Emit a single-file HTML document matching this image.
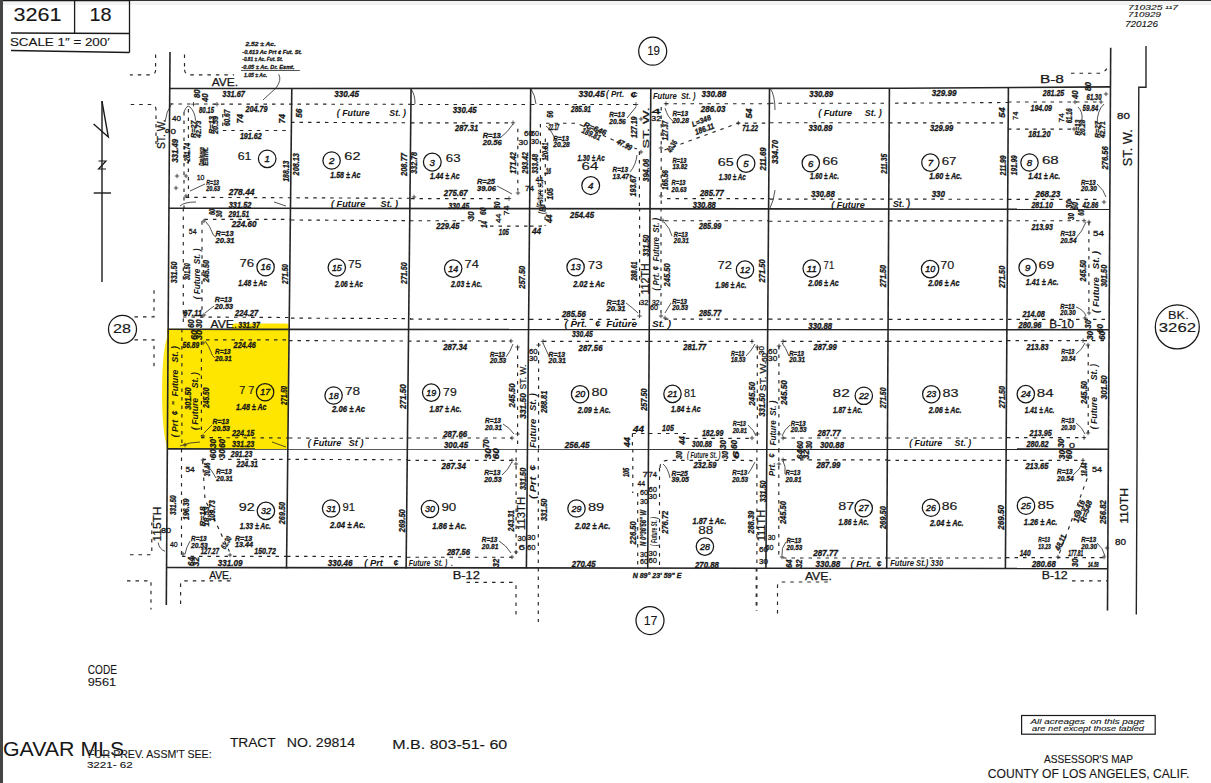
<!DOCTYPE html>
<html><head><meta charset="utf-8">
<style>
html,body{margin:0;padding:0;background:#fff;width:1211px;height:783px;overflow:hidden}
svg{position:absolute;left:0;top:0;display:block}
text{font-family:"Liberation Sans",sans-serif;fill:#161616;white-space:pre}
.d{font-weight:bold;font-style:italic;stroke:#161616;stroke-width:0.3px}
.f{font-weight:bold;font-style:italic}
.cn{font-style:italic;stroke:#161616;stroke-width:0.4px}
.n{stroke:#161616;stroke-width:0.15px}
.st{stroke:#161616;stroke-width:0.25px}
.rg{stroke:#161616;stroke-width:0.3px}
.bt{stroke:#161616;stroke-width:0.12px}
.ln{stroke:#252525;stroke-width:1.6;fill:none}
.th{stroke:#1a1a1a;stroke-width:1;fill:none}
.ds line,.ds path{stroke:#262626;stroke-width:1.15;fill:none;stroke-dasharray:3.5 5}
.ci circle{stroke:#161616;stroke-width:1.25;fill:none}
.tn path,.tn line{stroke:#262626;stroke-width:0.8;fill:none}
</style></head><body>
<svg width="1211" height="783" viewBox="0 0 1211 783">
<rect x="0" y="0" width="1211" height="1" fill="#333"/>
<rect x="0" y="1" width="1211" height="4" fill="#f3f3f3"/>
<rect x="0" y="0" width="3" height="783" fill="#444"/>
<ellipse cx="168.5" cy="392" rx="6.5" ry="55" fill="#ffe600" opacity="0.9"/>
<polygon points="167,328.8 289,329.2 288,449 166.5,449" fill="#ffe600"/>
<rect x="232" y="323.6" width="57" height="6" rx="3" fill="#ffe600"/>
<g class="th" style="stroke-width:1.3">
<line x1="3" y1="0.5" x2="129.5" y2="0.5"/>
<line x1="129.5" y1="0" x2="129.5" y2="52.5"/>
<line x1="74.6" y1="0" x2="74.6" y2="33"/>
<line x1="11" y1="33" x2="129.5" y2="33.5"/>
<line x1="11" y1="50.5" x2="129.5" y2="52.5"/>
</g>
<g class="ln">
<line x1="170" y1="52" x2="166.3" y2="605"/>
<line x1="291.8" y1="88.5" x2="286.5" y2="568.5"/>
<line x1="411.1" y1="88.5" x2="406.1" y2="568.5"/>
<line x1="530.7" y1="88.5" x2="526.4" y2="568.5"/>
<line x1="650.8" y1="88.5" x2="647.7" y2="568.5"/>
<line x1="769.5" y1="88.5" x2="765.9" y2="568.5"/>
<line x1="889.4" y1="88" x2="886.7" y2="568.5"/>
<line x1="1008.4" y1="87.5" x2="1005.4" y2="568.5"/>
<line x1="1110.7" y1="47.7" x2="1107.5" y2="610.5"/>
<polyline points="170,88.5 900,88.3 1110.5,86.9"/>
<line x1="169" y1="208.2" x2="1110" y2="209.3"/>
<line x1="168" y1="329.3" x2="1109" y2="329.7"/>
<line x1="167" y1="448.9" x2="1108.3" y2="449.2"/>
<line x1="166.3" y1="567.5" x2="1108" y2="568.6"/>
</g>
<polyline class="ln" points="1146,46 1146,87.2 1138.8,87.2 1136.3,614.5" style="stroke-width:1.4"/>
<g class="ci">
<circle cx="652.7" cy="51.2" r="14"/>
<circle cx="122.5" cy="329.3" r="14"/>
<circle cx="650" cy="620.5" r="14"/>
<circle cx="1177.3" cy="326.9" r="22"/>
</g>
<g class="th" style="stroke-width:1.4">
<line x1="102" y1="101" x2="102" y2="282"/>
<polyline points="102,101.4 108.3,137 93.6,124"/>
<line x1="93.7" y1="193" x2="111" y2="193"/>
<polyline points="98.5,161 106,161 98.5,169 106,169" style="stroke-width:1.2"/>
</g>
<rect x="1021.6" y="715.5" width="133.6" height="18.7" class="th" style="stroke-width:1.2"/>
<g class="ds">
<line x1="170" y1="104" x2="411" y2="104.3"/>
<line x1="222.8" y1="130.5" x2="291" y2="130.5"/>
<line x1="222.8" y1="114" x2="222.8" y2="130.5"/>
<line x1="185.8" y1="197.3" x2="411" y2="198.3"/>
<line x1="184" y1="112" x2="184" y2="208"/>
<line x1="188.4" y1="109" x2="188.4" y2="200"/>
<line x1="291" y1="122.3" x2="411" y2="122.8"/>
<line x1="411" y1="104.5" x2="531" y2="104.5"/>
<line x1="411" y1="122.8" x2="513" y2="122.8"/>
<line x1="517.8" y1="128.8" x2="517.8" y2="190.5"/>
<line x1="411" y1="198.6" x2="509" y2="198.6"/>
<line x1="531" y1="104.5" x2="636" y2="104.5"/>
<line x1="639.4" y1="151.6" x2="639.4" y2="208"/>
<path d="M546 123.2 L577 123.2 L612 139.5 L637 149"/>
<line x1="540.4" y1="124" x2="540.4" y2="208"/>
<line x1="545.3" y1="138.6" x2="545.3" y2="208"/>
<line x1="665" y1="103.7" x2="770" y2="103.7"/>
<line x1="661.2" y1="107" x2="661.2" y2="208"/>
<path d="M664.5 150 L738.3 123.1 L770 123.1"/>
<line x1="667" y1="198.6" x2="770" y2="198.6"/>
<line x1="770" y1="103.2" x2="889" y2="103.2"/>
<line x1="770" y1="122.7" x2="889" y2="122.7"/>
<line x1="770" y1="199.1" x2="889" y2="199.1"/>
<line x1="895" y1="103.2" x2="1008" y2="102.5"/>
<line x1="889" y1="122.8" x2="1008" y2="122.8"/>
<line x1="889" y1="199.1" x2="1008" y2="199.3"/>
<line x1="1008" y1="102" x2="1100" y2="102"/>
<line x1="1008" y1="129.1" x2="1076" y2="129.1"/>
<line x1="1008" y1="199.3" x2="1100" y2="199.3"/>
<line x1="183.3" y1="208" x2="183.3" y2="322"/>
<line x1="202" y1="221.2" x2="202" y2="317"/>
<line x1="204.4" y1="219.3" x2="290" y2="219.3"/>
<line x1="183" y1="317" x2="290" y2="317.5"/>
<line x1="291" y1="220" x2="411" y2="220.7"/>
<line x1="291" y1="318.1" x2="411" y2="318.6"/>
<line x1="410" y1="220.7" x2="485.2" y2="220.7"/>
<line x1="490" y1="226.1" x2="530" y2="226.1"/>
<line x1="410" y1="319.1" x2="530" y2="319.4"/>
<line x1="545.1" y1="208" x2="545.1" y2="226.1"/>
<line x1="530" y1="226.1" x2="545.1" y2="226.1"/>
<line x1="639.6" y1="208" x2="639.6" y2="315.4"/>
<line x1="530" y1="319.4" x2="640" y2="319.4"/>
<line x1="661" y1="208" x2="661" y2="317"/>
<line x1="665" y1="220.7" x2="769" y2="220.7"/>
<line x1="665" y1="319.1" x2="769" y2="319.1"/>
<line x1="769" y1="221.2" x2="889" y2="221.2"/>
<line x1="769" y1="319.1" x2="889" y2="319.1"/>
<line x1="889" y1="220.9" x2="1008" y2="220.9"/>
<line x1="889" y1="319.4" x2="1008" y2="319.4"/>
<line x1="1008" y1="220.7" x2="1084.3" y2="220.7"/>
<line x1="1088.9" y1="222" x2="1088.9" y2="313.6"/>
<line x1="1008" y1="319.3" x2="1110" y2="319.3"/>
<line x1="181.9" y1="329" x2="181.9" y2="449"/>
<line x1="201.4" y1="341.4" x2="201.4" y2="436.3"/>
<line x1="206" y1="339.8" x2="289" y2="339.8"/>
<line x1="201" y1="437.6" x2="289" y2="438"/>
<line x1="289" y1="340.6" x2="408" y2="341"/>
<line x1="289" y1="438" x2="408" y2="438.3"/>
<line x1="408" y1="341.1" x2="510.8" y2="341.1"/>
<line x1="517.6" y1="347" x2="517.6" y2="449"/>
<line x1="408" y1="438" x2="512" y2="438"/>
<line x1="543" y1="341.4" x2="649" y2="341.4"/>
<line x1="538.6" y1="343" x2="538.6" y2="449"/>
<line x1="632.4" y1="433.5" x2="649" y2="433.5"/>
<line x1="632.4" y1="433.5" x2="632.4" y2="449"/>
<line x1="649" y1="341.4" x2="752.4" y2="341.4"/>
<line x1="757.3" y1="347" x2="757.3" y2="449"/>
<line x1="649" y1="433.5" x2="685.8" y2="433.5"/>
<line x1="685.8" y1="438.3" x2="752" y2="438.3"/>
<line x1="783" y1="341.4" x2="888" y2="341.4"/>
<line x1="778.9" y1="346" x2="778.9" y2="449"/>
<line x1="783" y1="438" x2="888" y2="438"/>
<line x1="888" y1="341.4" x2="1007" y2="341.4"/>
<line x1="888" y1="438" x2="1007" y2="438"/>
<line x1="1007" y1="340.6" x2="1109" y2="340.6"/>
<line x1="1088.2" y1="345" x2="1088.2" y2="433"/>
<line x1="1007" y1="437.6" x2="1085" y2="437.6"/>
<line x1="181.5" y1="449" x2="181.5" y2="556.3"/>
<line x1="202.6" y1="459.3" x2="287" y2="459.3"/>
<path d="M202.6 460.6 L205 499.5 L229.4 551.5"/>
<line x1="182" y1="556.3" x2="287" y2="556.3"/>
<line x1="287" y1="459.3" x2="407" y2="459.8"/>
<line x1="287" y1="556.4" x2="407" y2="556.6"/>
<line x1="407" y1="460.3" x2="512" y2="460.3"/>
<line x1="516.1" y1="449" x2="516.1" y2="554"/>
<line x1="407" y1="557.2" x2="512" y2="557.2"/>
<line x1="538.3" y1="449" x2="538.3" y2="622"/>
<line x1="632.8" y1="449" x2="632.8" y2="493"/>
<line x1="637.7" y1="493" x2="637.7" y2="568"/>
<path d="M660 468 Q660 460.3 668 460.3 L748 460.3 Q757 460.3 757 466"/>
<line x1="659.5" y1="468" x2="659.5" y2="568"/>
<line x1="756.9" y1="449" x2="756.9" y2="611"/>
<line x1="778.8" y1="449" x2="778.8" y2="558"/>
<line x1="783" y1="459.8" x2="887" y2="459.8"/>
<line x1="783" y1="558" x2="887" y2="558"/>
<line x1="887" y1="460.3" x2="1006" y2="460.3"/>
<line x1="887" y1="558" x2="1006" y2="558"/>
<line x1="1006" y1="460.3" x2="1083.1" y2="460.3"/>
<path d="M1087.2 478.4 L1058 557.1"/>
<line x1="1006" y1="557.6" x2="1108" y2="557.6"/>
<line x1="155.6" y1="54.4" x2="155.6" y2="70"/>
<path d="M155.6 70 Q155.6 74.9 150 74.9 L130 74.9"/>
<line x1="184.5" y1="54.4" x2="184.5" y2="69.7"/>
<path d="M184.5 69.7 Q185 74.9 191 74.9 L234 74.9"/>
<path d="M130.7 104.5 L151 104.5 Q156 104.5 156 110 L156 144"/>
<path d="M1071 73.2 L1100 73.2 Q1106 72 1108 66"/>
<path d="M134.5 316.8 L154 316.8 L154 289.2"/>
<path d="M134.5 339.8 L154 339.8 L154 368.5"/>
<path d="M127 580.8 L151 580.8 L151 609.5"/>
<path d="M180.6 604 L180.6 584 Q180.6 580.8 184 580.8 L233.6 580.8"/>
<path d="M466.5 582.3 L512 582.3 Q516 582.3 516 586 L516 618.5"/>
<line x1="756.2" y1="568" x2="756.2" y2="611"/>
<path d="M777.5 613.5 L777.5 586 Q777.5 582 782 582 L829 582"/>
<line x1="1072" y1="580.8" x2="1107" y2="580.8"/>
<path d="M130 554.7 L151.8 554.7 L151.8 522.5"/>
</g>
<g class="tn">
<path d="M184 112 Q187 104 190 107 Q195 112 195.6 120.6"/>
<path d="M191.3 104.2H195.7M193.5 102.0V106.4"/>
<path d="M214.8 104.2H219.2M217 102.0V106.4"/>
<path d="M174.8 176H179.2M177 173.8V178.2"/>
<path d="M183.8 176H188.2M186 173.8V178.2"/>
<path d="M173.8 188H178.2M176 185.8V190.2"/>
<path d="M183.8 196H188.2M186 193.8V198.2"/>
<path d="M180 206 Q184 202 196 202"/>
<path d="M274 202 L286 206"/>
<path d="M190 191 L205 184"/>
<path d="M500 138 Q508 132 513 124"/>
<path d="M497 186 Q505 190 512 194"/>
<path d="M510.8 122.8H515.2M513 120.6V125.0"/>
<path d="M506.8 198.6H511.2M509 196.4V200.79999999999998"/>
<path d="M515.8 193H520.2M518 190.8V195.2"/>
<path d="M411.8 197H416.2M414 194.8V199.2"/>
<path d="M411 89 Q415 94 415 104"/>
<path d="M627 118 L636 107"/>
<path d="M630 172 Q636 165 637 155"/>
<path d="M546 126 Q552 130 556 142"/>
<path d="M531 89 Q535 95 536 104"/>
<path d="M633.8 104.5H638.2M636 102.3V106.7"/>
<path d="M638.8 119H643.2M641 116.8V121.2"/>
<path d="M638.8 152H643.2M641 149.8V154.2"/>
<path d="M665 108 Q668 118 673 121"/>
<path d="M663.8 103.7H668.2M666 101.5V105.9"/>
<path d="M736.0999999999999 123.1H740.5M738.3 120.89999999999999V125.3"/>
<path d="M658.8 148H663.2M661 145.8V150.2"/>
<path d="M658.8 196H663.2M661 193.8V198.2"/>
<path d="M770 88 Q775 95 775 110"/>
<path d="M775 190 Q774 200 770 208"/>
<path d="M1104 104 Q1097 110 1097 125"/>
<path d="M1097 184 Q1104 190 1106 197"/>
<path d="M1098.8 102H1103.2M1101 99.8V104.2"/>
<path d="M1072.8 102H1077.2M1075 99.8V104.2"/>
<path d="M1103.8 94H1108.2M1106 91.8V96.2"/>
<path d="M1101.8 202H1106.2M1104 199.8V204.2"/>
<path d="M1071.8 129H1076.2M1074 126.8V131.2"/>
<path d="M1078 107 Q1083 112 1082 120"/>
<path d="M206 222 Q210 226 212 232 Q213 236 216 237"/>
<path d="M214 306 L205 313"/>
<path d="M201.8 221H206.2M204 218.8V223.2"/>
<path d="M201.8 315H206.2M204 312.8V317.2"/>
<path d="M183.8 313H188.2M186 310.8V315.2"/>
<path d="M626 303 Q633 308 638 313"/>
<path d="M637.4 316H641.8000000000001M639.6 313.8V318.2"/>
<path d="M664 222 Q670 228 672 236"/>
<path d="M671 303 L665 313"/>
<path d="M660.8 220.7H665.2M663 218.5V222.89999999999998"/>
<path d="M658.8 316H663.2M661 313.8V318.2"/>
<path d="M662.8 318H667.2M665 315.8V320.2"/>
<path d="M1076 238 Q1082 232 1086 222"/>
<path d="M1076 307 Q1084 310 1086 316"/>
<path d="M1081.8 220.7H1086.2M1084 218.5V222.89999999999998"/>
<path d="M1086.8 222H1091.2M1089 219.8V224.2"/>
<path d="M1086.8 313H1091.2M1089 310.8V315.2"/>
<path d="M1082.8 318H1087.2M1085 315.8V320.2"/>
<path d="M205 341 Q209 346 211 352 Q212 356 215 358"/>
<path d="M212 425 L204 433"/>
<path d="M200.8 343H205.2M203 340.8V345.2"/>
<path d="M200.8 436H205.2M203 433.8V438.2"/>
<path d="M182.8 445H187.2M185 442.8V447.2"/>
<path d="M180 446 Q190 442 200 442"/>
<path d="M272 442 L286 447"/>
<path d="M506 357 Q510 352 513 344"/>
<path d="M503 424 Q510 428 514 434"/>
<path d="M508.8 341H513.2M511 338.8V343.2"/>
<path d="M515.4 347H519.8000000000001M517.6 344.8V349.2"/>
<path d="M515.4 434H519.8000000000001M517.6 431.8V436.2"/>
<path d="M509.8 438H514.2M512 435.8V440.2"/>
<path d="M543 343 Q546 350 549 356"/>
<path d="M540.8 341.4H545.2M543 339.2V343.59999999999997"/>
<path d="M536.4 345H540.8000000000001M538.6 342.8V347.2"/>
<path d="M746 356 Q752 350 755 344"/>
<path d="M748 425 Q754 430 756 436"/>
<path d="M749.8 341.4H754.2M752 339.2V343.59999999999997"/>
<path d="M755.0999999999999 347H759.5M757.3 344.8V349.2"/>
<path d="M755.0999999999999 434H759.5M757.3 431.8V436.2"/>
<path d="M749.8 438H754.2M752 435.8V440.2"/>
<path d="M782 343 Q786 348 789 356"/>
<path d="M790 425 Q784 430 782 436"/>
<path d="M780.8 341.4H785.2M783 339.2V343.59999999999997"/>
<path d="M776.8 346H781.2M779 343.8V348.2"/>
<path d="M776.8 434H781.2M779 431.8V436.2"/>
<path d="M780.8 438H785.2M783 435.8V440.2"/>
<path d="M1076 354 Q1082 350 1085 343"/>
<path d="M1076 423 Q1082 427 1085 434"/>
<path d="M1080.8 340.6H1085.2M1083 338.40000000000003V342.8"/>
<path d="M1085.8 345H1090.2M1088 342.8V347.2"/>
<path d="M1085.8 433H1090.2M1088 430.8V435.2"/>
<path d="M1081.8 437.6H1086.2M1084 435.40000000000003V439.8"/>
<path d="M206 464 Q212 470 216 478"/>
<path d="M190 541 Q186 548 185 554"/>
<path d="M200.8 460H205.2M203 457.8V462.2"/>
<path d="M180.8 554H185.2M183 551.8V556.2"/>
<path d="M227.8 555H232.2M230 552.8V557.2"/>
<path d="M502 475 Q508 470 512 462"/>
<path d="M499 541 Q506 545 511 553"/>
<path d="M509.8 460.3H514.2M512 458.1V462.5"/>
<path d="M513.8 464H518.2M516 461.8V466.2"/>
<path d="M513.8 552H518.2M516 549.8V554.2"/>
<path d="M509.8 557H514.2M512 554.8V559.2"/>
<path d="M663 464 Q668 468 670 478"/>
<path d="M748 474 Q752 468 755 462"/>
<path d="M783 461 Q786 466 785 474"/>
<path d="M786 542 Q781 548 782 555"/>
<path d="M780.8 459.8H785.2M783 457.6V462.0"/>
<path d="M776.8 464H781.2M779 461.8V466.2"/>
<path d="M779.8 557H784.2M782 554.8V559.2"/>
<path d="M1073 475 Q1080 470 1083 462"/>
<path d="M1097 543 Q1103 548 1105 556"/>
<path d="M1080.8 460.3H1085.2M1083 458.1V462.5"/>
<path d="M1055.8 557H1060.2M1058 554.8V559.2"/>
<path d="M1101.8 557H1106.2M1104 554.8V559.2"/>
<path d="M1104.8 548H1109.2M1107 545.8V550.2"/>
<path d="M165 122 Q166 112 172 103"/>
<line x1="241.1" y1="70.5" x2="299.8" y2="70.5"/>
<path d="M278.7 74.2 Q282 80 276 88 L263 100"/>
<path d="M158.2 542.6 Q159 549 165 551.3"/>
</g>
<g class="ci">
<circle cx="267.2" cy="158.8" r="8.8"/>
<circle cx="331.6" cy="160.5" r="8.7"/>
<circle cx="432.3" cy="162.1" r="8.9"/>
<circle cx="590.7" cy="185.6" r="8.9"/>
<circle cx="746" cy="163.4" r="8.9"/>
<circle cx="810.8" cy="163.2" r="8.7"/>
<circle cx="930.4" cy="162.6" r="8.7"/>
<circle cx="1029.5" cy="162.5" r="8.7"/>
<circle cx="265.6" cy="267.2" r="8.7"/>
<circle cx="336.8" cy="267.5" r="8.7"/>
<circle cx="453.2" cy="268.6" r="8.7"/>
<circle cx="575.6" cy="267.2" r="8.7"/>
<circle cx="745" cy="269.6" r="8.7"/>
<circle cx="811.7" cy="268.6" r="8.7"/>
<circle cx="930.1" cy="269.1" r="8.7"/>
<circle cx="1027.6" cy="267.4" r="8.7"/>
<circle cx="265.1" cy="392.2" r="8.7"/>
<circle cx="333.6" cy="395.5" r="8.7"/>
<circle cx="431.2" cy="392.6" r="8.7"/>
<circle cx="580.1" cy="394.2" r="8.7"/>
<circle cx="672.5" cy="393.9" r="8.7"/>
<circle cx="863.8" cy="395.8" r="8.7"/>
<circle cx="931.3" cy="394.2" r="8.7"/>
<circle cx="1025.8" cy="394.1" r="8.7"/>
<circle cx="265.9" cy="510.9" r="8.7"/>
<circle cx="331.1" cy="508.5" r="8.7"/>
<circle cx="430" cy="509" r="8.7"/>
<circle cx="576.5" cy="508.5" r="8.7"/>
<circle cx="704.9" cy="546.6" r="8.7"/>
<circle cx="863.7" cy="508.2" r="8.7"/>
<circle cx="931" cy="507.7" r="8.7"/>
<circle cx="1026" cy="505.7" r="8.7"/>
</g>
<text class="d" x="222.3" y="97.4" style="font-size:8.3px" textLength="22.7" lengthAdjust="spacingAndGlyphs">331.67</text>
<text class="d" x="245.4" y="111.9" style="font-size:8.3px" textLength="22.0" lengthAdjust="spacingAndGlyphs">204.79</text>
<text class="d" x="199.0" y="112.5" style="font-size:8.3px" textLength="15.0" lengthAdjust="spacingAndGlyphs">80.15</text>
<text class="d" x="239.9" y="138.7" style="font-size:8.3px" textLength="21.9" lengthAdjust="spacingAndGlyphs">191.62</text>
<text class="d" x="228.7" y="195.3" style="font-size:8.3px" textLength="25.9" lengthAdjust="spacingAndGlyphs">278.44</text>
<text class="d" x="228.7" y="207.7" style="font-size:8.3px" textLength="22.7" lengthAdjust="spacingAndGlyphs">331.52</text>
<text class="d" transform="translate(240.0,118.8) rotate(-90)" x="-4.8" y="2.9" style="font-size:8.3px" textLength="9.5" lengthAdjust="spacingAndGlyphs">74</text>
<text class="d" transform="translate(282.4,118.8) rotate(-90)" x="-4.8" y="2.9" style="font-size:8.3px" textLength="9.5" lengthAdjust="spacingAndGlyphs">74</text>
<text class="d" transform="translate(285.6,171.2) rotate(-90)" x="-10.6" y="2.9" style="font-size:8.3px" textLength="21.2" lengthAdjust="spacingAndGlyphs">188.13</text>
<text class="d" transform="translate(174.6,150.8) rotate(-90)" x="-11.8" y="2.9" style="font-size:8.3px" textLength="23.6" lengthAdjust="spacingAndGlyphs">331.49</text>
<text class="rg" x="172.0" y="121.3" style="font-size:8.0px" textLength="9.0" lengthAdjust="spacingAndGlyphs">40</text>
<text class="rg" x="170.5" y="134.1" style="font-size:8.0px" textLength="5.5" lengthAdjust="spacingAndGlyphs">0</text>
<text class="d" transform="translate(197.2,93.8) rotate(-90)" x="-4.3" y="2.9" style="font-size:8.3px" textLength="8.5" lengthAdjust="spacingAndGlyphs">80</text>
<text class="d" transform="translate(205.0,97.8) rotate(-90)" x="-4.3" y="2.9" style="font-size:8.3px" textLength="8.5" lengthAdjust="spacingAndGlyphs">40</text>
<text class="d" transform="translate(211.3,125.0) rotate(-90)" x="-9.0" y="2.7" style="font-size:7.6px" textLength="18.0" lengthAdjust="spacingAndGlyphs">R=13</text>
<text class="d" transform="translate(215.5,125.0) rotate(-90)" x="-9.0" y="2.7" style="font-size:7.6px" textLength="18.0" lengthAdjust="spacingAndGlyphs">20.59</text>
<text class="d" transform="translate(227.0,117.8) rotate(-90)" x="-8.3" y="2.9" style="font-size:8.3px" textLength="16.5" lengthAdjust="spacingAndGlyphs">60.67</text>
<text class="d" transform="translate(193.5,129.3) rotate(-90)" x="-8.6" y="2.7" style="font-size:7.6px" textLength="17.3" lengthAdjust="spacingAndGlyphs">R=27</text>
<text class="d" transform="translate(197.8,129.3) rotate(-90)" x="-8.6" y="2.7" style="font-size:7.6px" textLength="17.3" lengthAdjust="spacingAndGlyphs">42.73</text>
<text class="d" transform="translate(187.4,153.2) rotate(-90)" x="-10.3" y="2.9" style="font-size:8.3px" textLength="20.5" lengthAdjust="spacingAndGlyphs">-281.74</text>
<text class="d" transform="translate(201.5,156.4) rotate(-90)" x="-9.4" y="2.7" style="font-size:7.6px" textLength="18.8" lengthAdjust="spacingAndGlyphs">Drainage</text>
<text class="d" transform="translate(205.5,156.4) rotate(-90)" x="-9.4" y="2.7" style="font-size:7.6px" textLength="18.8" lengthAdjust="spacingAndGlyphs">Esmt.</text>
<text class="rg" x="196.7" y="179.6" style="font-size:8.0px" textLength="7.8" lengthAdjust="spacingAndGlyphs">10</text>
<text class="d" x="206.3" y="184.6" style="font-size:7.6px" textLength="12.7" lengthAdjust="spacingAndGlyphs">R=13</text>
<text class="d" x="206.3" y="191.2" style="font-size:7.6px" textLength="13.7" lengthAdjust="spacingAndGlyphs">20.63</text>
<text class="n" x="237.7" y="160.1" style="font-size:10.3px" textLength="13.8" lengthAdjust="spacingAndGlyphs">61</text>
<text class="cn" x="264.5" y="162.2" style="font-size:9.8px" textLength="5.4" lengthAdjust="spacingAndGlyphs">1</text>
<text class="d" x="334.3" y="97.0" style="font-size:8.3px" textLength="24.7" lengthAdjust="spacingAndGlyphs">330.45</text>
<text class="f" x="336.8" y="116.4" style="font-size:8.3px" textLength="69.2" lengthAdjust="spacingAndGlyphs">( Future        St. )</text>
<text class="d" transform="translate(298.8,113.1) rotate(-90)" x="-4.7" y="2.9" style="font-size:8.3px" textLength="9.3" lengthAdjust="spacingAndGlyphs">56</text>
<text class="cn" x="328.9" y="163.9" style="font-size:9.8px" textLength="5.4" lengthAdjust="spacingAndGlyphs">2</text>
<text class="n" x="344.3" y="160.2" style="font-size:10.3px" textLength="16.2" lengthAdjust="spacingAndGlyphs">62</text>
<text class="d" x="330.3" y="178.0" style="font-size:8.3px" textLength="30.1" lengthAdjust="spacingAndGlyphs">1.58 ± Ac</text>
<text class="d" transform="translate(295.6,164.2) rotate(-90)" x="-11.2" y="2.9" style="font-size:8.3px" textLength="22.3" lengthAdjust="spacingAndGlyphs">208.13</text>
<text class="d" transform="translate(404.3,164.5) rotate(-90)" x="-11.5" y="2.9" style="font-size:8.3px" textLength="23.0" lengthAdjust="spacingAndGlyphs">208.77</text>
<text class="f" x="331.0" y="207.2" style="font-size:8.3px" textLength="67.0" lengthAdjust="spacingAndGlyphs">( Future      St. )</text>
<text class="d" x="452.7" y="113.1" style="font-size:8.3px" textLength="23.9" lengthAdjust="spacingAndGlyphs">330.45</text>
<text class="d" x="455.0" y="131.0" style="font-size:8.3px" textLength="23.2" lengthAdjust="spacingAndGlyphs">287.31</text>
<text class="d" x="482.7" y="137.6" style="font-size:7.6px" textLength="18.1" lengthAdjust="spacingAndGlyphs">R=13</text>
<text class="d" x="482.7" y="144.7" style="font-size:7.6px" textLength="19.1" lengthAdjust="spacingAndGlyphs">20.56</text>
<text class="d" transform="translate(513.4,162.8) rotate(-90)" x="-10.9" y="2.9" style="font-size:8.3px" textLength="21.7" lengthAdjust="spacingAndGlyphs">171.42</text>
<text class="d" transform="translate(525.0,162.8) rotate(-90)" x="-10.9" y="2.9" style="font-size:8.3px" textLength="21.7" lengthAdjust="spacingAndGlyphs">293.42</text>
<text class="rg" x="524.0" y="136.0" style="font-size:8.0px" textLength="9.0" lengthAdjust="spacingAndGlyphs">60</text>
<text class="rg" x="518.5" y="144.5" style="font-size:8.0px" textLength="9.5" lengthAdjust="spacingAndGlyphs">30</text>
<text class="rg" x="525.0" y="190.9" style="font-size:8.0px" textLength="9.0" lengthAdjust="spacingAndGlyphs">74</text>
<text class="d" transform="translate(414.0,162.8) rotate(-90)" x="-10.9" y="2.9" style="font-size:8.3px" textLength="21.7" lengthAdjust="spacingAndGlyphs">332.78</text>
<text class="cn" x="429.6" y="165.5" style="font-size:9.8px" textLength="5.4" lengthAdjust="spacingAndGlyphs">3</text>
<text class="n" x="445.8" y="162.0" style="font-size:10.3px" textLength="14.7" lengthAdjust="spacingAndGlyphs">63</text>
<text class="d" x="430.0" y="178.8" style="font-size:8.3px" textLength="29.6" lengthAdjust="spacingAndGlyphs">1.44 ± Ac</text>
<text class="d" x="477.0" y="183.9" style="font-size:7.6px" textLength="18.0" lengthAdjust="spacingAndGlyphs">R=25</text>
<text class="d" x="477.0" y="191.0" style="font-size:7.6px" textLength="19.0" lengthAdjust="spacingAndGlyphs">39.06</text>
<text class="d" x="443.8" y="195.9" style="font-size:8.3px" textLength="23.9" lengthAdjust="spacingAndGlyphs">275.67</text>
<text class="d" x="448.6" y="208.7" style="font-size:8.3px" textLength="20.7" lengthAdjust="spacingAndGlyphs">330.45</text>
<text class="d" transform="translate(497.5,205.3) rotate(-90)" x="-3.7" y="2.9" style="font-size:8.3px" textLength="7.3" lengthAdjust="spacingAndGlyphs">80</text>
<text class="d" x="578.4" y="97.0" style="font-size:8.3px" textLength="26.3" lengthAdjust="spacingAndGlyphs">330.45</text>
<text class="f" x="606.0" y="97.4" style="font-size:8.3px" textLength="18.2" lengthAdjust="spacingAndGlyphs">( Prt.</text>
<text class="f" x="630.3" y="97.7" style="font-size:8.3px" textLength="7.7" lengthAdjust="spacingAndGlyphs">¢</text>
<text class="d" x="571.0" y="112.3" style="font-size:8.3px" textLength="20.0" lengthAdjust="spacingAndGlyphs">285.91</text>
<text class="d" x="609.2" y="117.2" style="font-size:7.6px" textLength="15.6" lengthAdjust="spacingAndGlyphs">R=13</text>
<text class="d" x="609.2" y="123.9" style="font-size:7.6px" textLength="16.6" lengthAdjust="spacingAndGlyphs">20.56</text>
<text class="d" transform="translate(634.0,127.2) rotate(-90)" x="-10.8" y="2.9" style="font-size:8.3px" textLength="21.5" lengthAdjust="spacingAndGlyphs">127.19</text>
<text class="st" transform="translate(645.1,128.0) rotate(-90)" x="-20.6" y="3.4" style="font-size:9.8px" textLength="41.2" lengthAdjust="spacingAndGlyphs">ST. W.</text>
<text class="d" transform="translate(583.0,126.5) rotate(22)" x="0" y="0" style="font-size:7.6px" textLength="24.0" lengthAdjust="spacingAndGlyphs">R=646</text>
<text class="d" transform="translate(581.0,132.5) rotate(24)" x="0" y="0" style="font-size:8.3px" textLength="20.0" lengthAdjust="spacingAndGlyphs">189.81</text>
<text class="d" transform="translate(616.0,143.5) rotate(27)" x="0" y="0" style="font-size:8.3px" textLength="16.0" lengthAdjust="spacingAndGlyphs">47.99</text>
<text class="d" x="577.6" y="161.4" style="font-size:8.3px" textLength="27.1" lengthAdjust="spacingAndGlyphs">1.30 ± Ac</text>
<text class="n" x="581.6" y="170.4" style="font-size:11.5px" textLength="16.8" lengthAdjust="spacingAndGlyphs">64</text>
<text class="cn" x="588.0" y="189.0" style="font-size:9.8px" textLength="5.4" lengthAdjust="spacingAndGlyphs">4</text>
<text class="d" x="612.5" y="171.8" style="font-size:7.6px" textLength="15.5" lengthAdjust="spacingAndGlyphs">R=13</text>
<text class="d" x="612.5" y="178.9" style="font-size:7.6px" textLength="16.5" lengthAdjust="spacingAndGlyphs">13.47</text>
<text class="d" transform="translate(633.4,185.7) rotate(-90)" x="-10.7" y="2.9" style="font-size:8.3px" textLength="21.4" lengthAdjust="spacingAndGlyphs">193.67</text>
<text class="d" transform="translate(646.0,170.2) rotate(-90)" x="-11.6" y="2.9" style="font-size:8.3px" textLength="23.1" lengthAdjust="spacingAndGlyphs">394.06</text>
<text class="d" transform="translate(550.2,114.2) rotate(-90)" x="-3.5" y="2.9" style="font-size:8.3px" textLength="6.9" lengthAdjust="spacingAndGlyphs">56</text>
<text class="d" x="548.4" y="129.7" style="font-size:8.3px" textLength="10.9" lengthAdjust="spacingAndGlyphs">22.17</text>
<text class="d" x="553.2" y="140.7" style="font-size:7.6px" textLength="15.6" lengthAdjust="spacingAndGlyphs">R=13</text>
<text class="d" x="553.2" y="147.4" style="font-size:7.6px" textLength="16.6" lengthAdjust="spacingAndGlyphs">20.28</text>
<text class="d" transform="translate(545.3,151.6) rotate(-90)" x="-9.2" y="2.9" style="font-size:8.3px" textLength="18.3" lengthAdjust="spacingAndGlyphs">120.61</text>
<text class="d" transform="translate(535.5,163.8) rotate(-90)" x="-10.0" y="2.9" style="font-size:8.3px" textLength="19.9" lengthAdjust="spacingAndGlyphs">333.48</text>
<text class="rg" x="531.0" y="136.3" style="font-size:8.0px" textLength="8.0" lengthAdjust="spacingAndGlyphs">60</text>
<text class="rg" x="531.0" y="144.3" style="font-size:8.0px" textLength="8.0" lengthAdjust="spacingAndGlyphs">30</text>
<text class="rg" x="535.4" y="182.0" style="font-size:8.0px" textLength="7.6" lengthAdjust="spacingAndGlyphs">44</text>
<text class="d" transform="translate(550.2,193.8) rotate(-90)" x="-5.9" y="2.9" style="font-size:8.3px" textLength="11.7" lengthAdjust="spacingAndGlyphs">105</text>
<text class="f" transform="translate(540.4,193.8) rotate(-90)" x="-14.0" y="2.9" style="font-size:8.3px" textLength="28.0" lengthAdjust="spacingAndGlyphs">(Future st.)</text>
<text class="d" x="544.3" y="173.6" style="font-size:8.3px" textLength="6.7" lengthAdjust="spacingAndGlyphs">.16</text>
<text class="f" x="652.9" y="99.3" style="font-size:8.3px" textLength="42.6" lengthAdjust="spacingAndGlyphs">Future  St. )</text>
<text class="d" x="701.6" y="97.0" style="font-size:8.3px" textLength="24.8" lengthAdjust="spacingAndGlyphs">330.88</text>
<text class="d" x="700.8" y="111.5" style="font-size:8.3px" textLength="24.7" lengthAdjust="spacingAndGlyphs">286.03</text>
<text class="d" x="672.4" y="116.4" style="font-size:7.6px" textLength="15.6" lengthAdjust="spacingAndGlyphs">R=13</text>
<text class="d" x="672.4" y="123.0" style="font-size:7.6px" textLength="16.6" lengthAdjust="spacingAndGlyphs">20.28</text>
<text class="d" transform="translate(665.3,130.4) rotate(-90)" x="-10.0" y="2.9" style="font-size:8.3px" textLength="19.9" lengthAdjust="spacingAndGlyphs">127.37</text>
<text class="d" transform="translate(693.0,127.0) rotate(-22)" x="0" y="0" style="font-size:7.6px" textLength="20.0" lengthAdjust="spacingAndGlyphs">L=348</text>
<text class="d" transform="translate(696.0,135.0) rotate(-20)" x="0" y="0" style="font-size:8.3px" textLength="20.0" lengthAdjust="spacingAndGlyphs">186.11</text>
<text class="d" transform="translate(748.9,113.5) rotate(-90)" x="-5.1" y="2.9" style="font-size:8.3px" textLength="10.1" lengthAdjust="spacingAndGlyphs">54</text>
<text class="d" x="742.2" y="130.8" style="font-size:8.3px" textLength="15.8" lengthAdjust="spacingAndGlyphs">71.22</text>
<text class="d" transform="translate(672.0,146.3) rotate(-60)" x="-6.3" y="2.9" style="font-size:8.3px" textLength="12.6" lengthAdjust="spacingAndGlyphs">40.36</text>
<text class="d" x="672.4" y="162.6" style="font-size:7.6px" textLength="14.0" lengthAdjust="spacingAndGlyphs">R=13</text>
<text class="d" x="672.4" y="169.3" style="font-size:7.6px" textLength="15.0" lengthAdjust="spacingAndGlyphs">13.82</text>
<text class="d" transform="translate(665.3,179.9) rotate(-90)" x="-10.0" y="2.9" style="font-size:8.3px" textLength="19.9" lengthAdjust="spacingAndGlyphs">165.56</text>
<text class="d" x="671.6" y="184.8" style="font-size:7.6px" textLength="14.0" lengthAdjust="spacingAndGlyphs">R=13</text>
<text class="d" x="671.6" y="191.8" style="font-size:7.6px" textLength="15.0" lengthAdjust="spacingAndGlyphs">20.63</text>
<text class="d" x="700.0" y="196.3" style="font-size:8.3px" textLength="23.9" lengthAdjust="spacingAndGlyphs">285.77</text>
<text class="d" x="692.7" y="208.3" style="font-size:8.3px" textLength="23.1" lengthAdjust="spacingAndGlyphs">330.88</text>
<text class="n" x="717.8" y="165.8" style="font-size:10.3px" textLength="16.0" lengthAdjust="spacingAndGlyphs">65</text>
<text class="cn" x="743.3" y="166.8" style="font-size:9.8px" textLength="5.4" lengthAdjust="spacingAndGlyphs">5</text>
<text class="d" x="718.7" y="179.7" style="font-size:8.3px" textLength="27.1" lengthAdjust="spacingAndGlyphs">1.30 ± Ac</text>
<text class="d" transform="translate(763.5,158.9) rotate(-90)" x="-11.6" y="2.9" style="font-size:8.3px" textLength="23.1" lengthAdjust="spacingAndGlyphs">211.69</text>
<text class="rg" x="651.3" y="113.8" style="font-size:8.0px" textLength="9.7" lengthAdjust="spacingAndGlyphs">4</text>
<text class="rg" x="651.3" y="120.6" style="font-size:8.0px" textLength="9.7" lengthAdjust="spacingAndGlyphs">32</text>
<text class="d" x="809.3" y="96.9" style="font-size:8.3px" textLength="23.9" lengthAdjust="spacingAndGlyphs">330.89</text>
<text class="f" x="818.2" y="116.0" style="font-size:8.3px" textLength="63.7" lengthAdjust="spacingAndGlyphs">( Future     St. )</text>
<text class="d" x="808.5" y="131.0" style="font-size:8.3px" textLength="23.9" lengthAdjust="spacingAndGlyphs">330.89</text>
<text class="d" transform="translate(774.6,151.9) rotate(-90)" x="-12.0" y="2.9" style="font-size:8.3px" textLength="23.9" lengthAdjust="spacingAndGlyphs">334.70</text>
<text class="cn" x="808.1" y="166.6" style="font-size:9.8px" textLength="5.4" lengthAdjust="spacingAndGlyphs">6</text>
<text class="n" x="822.6" y="165.1" style="font-size:10.3px" textLength="15.5" lengthAdjust="spacingAndGlyphs">66</text>
<text class="d" x="810.0" y="179.3" style="font-size:8.3px" textLength="28.9" lengthAdjust="spacingAndGlyphs">1.60 ± Ac.</text>
<text class="d" transform="translate(884.1,163.8) rotate(-90)" x="-10.0" y="2.9" style="font-size:8.3px" textLength="19.9" lengthAdjust="spacingAndGlyphs">211.35</text>
<text class="d" x="810.9" y="197.1" style="font-size:8.3px" textLength="23.9" lengthAdjust="spacingAndGlyphs">330.88</text>
<text class="f" x="831.2" y="207.7" style="font-size:8.3px" textLength="33.6" lengthAdjust="spacingAndGlyphs">( Future</text>
<text class="d" x="931.7" y="96.3" style="font-size:8.3px" textLength="24.7" lengthAdjust="spacingAndGlyphs">329.99</text>
<text class="d" transform="translate(1002.5,112.6) rotate(-90)" x="-5.1" y="2.9" style="font-size:8.3px" textLength="10.2" lengthAdjust="spacingAndGlyphs">54</text>
<text class="d" x="930.0" y="131.0" style="font-size:8.3px" textLength="23.2" lengthAdjust="spacingAndGlyphs">329.99</text>
<text class="cn" x="927.7" y="166.0" style="font-size:9.8px" textLength="5.4" lengthAdjust="spacingAndGlyphs">7</text>
<text class="n" x="941.7" y="164.6" style="font-size:10.3px" textLength="14.8" lengthAdjust="spacingAndGlyphs">67</text>
<text class="d" x="929.3" y="179.3" style="font-size:8.3px" textLength="32.8" lengthAdjust="spacingAndGlyphs">1.60 ± Ac.</text>
<text class="d" transform="translate(1003.3,165.4) rotate(-90)" x="-10.0" y="2.9" style="font-size:8.3px" textLength="19.9" lengthAdjust="spacingAndGlyphs">211.99</text>
<text class="d" x="931.7" y="197.1" style="font-size:8.3px" textLength="13.3" lengthAdjust="spacingAndGlyphs">330</text>
<text class="f" x="892.7" y="206.8" style="font-size:8.3px" textLength="17.5" lengthAdjust="spacingAndGlyphs">St. )</text>
<text class="d" x="1042.8" y="96.3" style="font-size:8.3px" textLength="21.4" lengthAdjust="spacingAndGlyphs">281.25</text>
<text class="d" transform="translate(1075.4,94.8) rotate(-90)" x="-4.3" y="2.9" style="font-size:8.3px" textLength="8.5" lengthAdjust="spacingAndGlyphs">40</text>
<text class="d" x="1086.6" y="100.1" style="font-size:8.3px" textLength="14.9" lengthAdjust="spacingAndGlyphs">61.30</text>
<text class="d" x="1030.6" y="110.6" style="font-size:8.3px" textLength="21.4" lengthAdjust="spacingAndGlyphs">194.09</text>
<text class="d" x="1082.5" y="110.6" style="font-size:8.3px" textLength="15.8" lengthAdjust="spacingAndGlyphs">59.84</text>
<text class="rg" transform="translate(1015.4,115.8) rotate(-90)" x="-4.2" y="2.8" style="font-size:8.0px" textLength="8.4" lengthAdjust="spacingAndGlyphs">74</text>
<text class="rg" transform="translate(1061.3,117.8) rotate(-90)" x="-4.6" y="2.8" style="font-size:8.0px" textLength="9.3" lengthAdjust="spacingAndGlyphs">74</text>
<text class="d" transform="translate(1068.9,115.8) rotate(-90)" x="-7.5" y="2.9" style="font-size:8.3px" textLength="15.0" lengthAdjust="spacingAndGlyphs">61.16</text>
<text class="d" transform="translate(1077.5,127.6) rotate(-90)" x="-7.9" y="2.7" style="font-size:7.6px" textLength="15.8" lengthAdjust="spacingAndGlyphs">R=13</text>
<text class="d" transform="translate(1082.5,127.6) rotate(-90)" x="-7.9" y="2.7" style="font-size:7.6px" textLength="15.8" lengthAdjust="spacingAndGlyphs">20.28</text>
<text class="d" transform="translate(1097.5,129.6) rotate(-90)" x="-8.3" y="2.7" style="font-size:7.6px" textLength="16.6" lengthAdjust="spacingAndGlyphs">R=27</text>
<text class="d" transform="translate(1102.5,129.6) rotate(-90)" x="-8.3" y="2.7" style="font-size:7.6px" textLength="16.6" lengthAdjust="spacingAndGlyphs">42.71</text>
<text class="d" x="1028.2" y="137.4" style="font-size:8.3px" textLength="22.3" lengthAdjust="spacingAndGlyphs">181.20</text>
<text class="d" transform="translate(1013.8,165.3) rotate(-90)" x="-9.9" y="2.9" style="font-size:8.3px" textLength="19.8" lengthAdjust="spacingAndGlyphs">191.99</text>
<text class="cn" x="1026.8" y="165.9" style="font-size:9.8px" textLength="5.4" lengthAdjust="spacingAndGlyphs">8</text>
<text class="n" x="1041.9" y="164.0" style="font-size:10.3px" textLength="16.8" lengthAdjust="spacingAndGlyphs">68</text>
<text class="d" x="1028.2" y="178.7" style="font-size:8.3px" textLength="32.0" lengthAdjust="spacingAndGlyphs">1.41 ± Ac.</text>
<text class="d" transform="translate(1104.6,157.9) rotate(-90)" x="-11.6" y="2.9" style="font-size:8.3px" textLength="23.1" lengthAdjust="spacingAndGlyphs">276.56</text>
<text class="d" x="1080.9" y="184.9" style="font-size:7.6px" textLength="14.8" lengthAdjust="spacingAndGlyphs">R=13</text>
<text class="d" x="1080.9" y="190.7" style="font-size:7.6px" textLength="15.8" lengthAdjust="spacingAndGlyphs">20.30</text>
<text class="d" x="1035.5" y="196.6" style="font-size:8.3px" textLength="24.7" lengthAdjust="spacingAndGlyphs">268.23</text>
<text class="d" x="1031.4" y="207.5" style="font-size:8.3px" textLength="21.5" lengthAdjust="spacingAndGlyphs">281.10</text>
<text class="d" transform="translate(1068.9,204.2) rotate(-90)" x="-4.2" y="2.9" style="font-size:8.3px" textLength="8.4" lengthAdjust="spacingAndGlyphs">30</text>
<text class="d" transform="translate(1075.0,206.0) rotate(-90)" x="-4.0" y="2.9" style="font-size:8.3px" textLength="8.0" lengthAdjust="spacingAndGlyphs">60</text>
<text class="d" x="1082.5" y="207.5" style="font-size:8.3px" textLength="15.8" lengthAdjust="spacingAndGlyphs">42.86</text>
<text class="d" transform="translate(211.7,211.9) rotate(-90)" x="-3.1" y="2.9" style="font-size:8.3px" textLength="6.1" lengthAdjust="spacingAndGlyphs">60</text>
<text class="d" transform="translate(219.0,213.9) rotate(-90)" x="-3.5" y="2.9" style="font-size:8.3px" textLength="6.9" lengthAdjust="spacingAndGlyphs">30</text>
<text class="d" x="228.6" y="216.5" style="font-size:8.3px" textLength="20.6" lengthAdjust="spacingAndGlyphs">291.51</text>
<text class="d" x="231.8" y="227.4" style="font-size:8.3px" textLength="24.7" lengthAdjust="spacingAndGlyphs">224.60</text>
<text class="rg" x="188.8" y="233.8" style="font-size:8.0px" textLength="7.7" lengthAdjust="spacingAndGlyphs">54</text>
<text class="d" x="215.6" y="236.4" style="font-size:7.6px" textLength="18.0" lengthAdjust="spacingAndGlyphs">R=13</text>
<text class="d" x="215.6" y="243.0" style="font-size:7.6px" textLength="19.0" lengthAdjust="spacingAndGlyphs">20.31</text>
<text class="d" transform="translate(173.6,272.4) rotate(-90)" x="-10.8" y="2.9" style="font-size:8.3px" textLength="21.5" lengthAdjust="spacingAndGlyphs">331.50</text>
<text class="d" transform="translate(187.5,271.6) rotate(-90)" x="-8.3" y="2.9" style="font-size:8.3px" textLength="16.6" lengthAdjust="spacingAndGlyphs">301.50</text>
<text class="f" transform="translate(197.0,273.9) rotate(-90)" x="-25.4" y="2.9" style="font-size:8.3px" textLength="50.7" lengthAdjust="spacingAndGlyphs">( Future  St. )</text>
<text class="d" transform="translate(206.0,271.1) rotate(-90)" x="-11.2" y="2.9" style="font-size:8.3px" textLength="22.3" lengthAdjust="spacingAndGlyphs">245.50</text>
<text class="n" x="239.5" y="267.2" style="font-size:10.3px" textLength="14.7" lengthAdjust="spacingAndGlyphs">76</text>
<text class="cn" x="260.7" y="270.3" style="font-size:8.8px" textLength="9.9" lengthAdjust="spacingAndGlyphs">16</text>
<text class="d" x="238.3" y="285.9" style="font-size:8.3px" textLength="28.7" lengthAdjust="spacingAndGlyphs">1.48 ± Ac</text>
<text class="d" transform="translate(284.8,274.0) rotate(-90)" x="-10.0" y="2.9" style="font-size:8.3px" textLength="20.0" lengthAdjust="spacingAndGlyphs">271.50</text>
<text class="d" x="214.8" y="302.3" style="font-size:7.6px" textLength="17.2" lengthAdjust="spacingAndGlyphs">R=13</text>
<text class="d" x="214.8" y="309.4" style="font-size:7.6px" textLength="18.2" lengthAdjust="spacingAndGlyphs">20.53</text>
<text class="d" x="183.1" y="315.5" style="font-size:8.3px" textLength="19.0" lengthAdjust="spacingAndGlyphs">67.11</text>
<text class="d" x="235.0" y="315.9" style="font-size:8.3px" textLength="23.2" lengthAdjust="spacingAndGlyphs">224.27</text>
<text class="d" transform="translate(190.6,323.6) rotate(-90)" x="-4.3" y="2.9" style="font-size:8.3px" textLength="8.5" lengthAdjust="spacingAndGlyphs">60</text>
<text class="d" transform="translate(198.7,323.6) rotate(-90)" x="-4.3" y="2.9" style="font-size:8.3px" textLength="8.5" lengthAdjust="spacingAndGlyphs">30</text>
<text class="st" x="210.6" y="327.7" style="font-size:10.5px" textLength="26.6" lengthAdjust="spacingAndGlyphs">AVE.</text>
<text class="d" x="238.3" y="328.1" style="font-size:8.3px" textLength="21.5" lengthAdjust="spacingAndGlyphs">331.37</text>
<text class="cn" x="331.9" y="270.6" style="font-size:8.8px" textLength="9.9" lengthAdjust="spacingAndGlyphs">15</text>
<text class="n" x="347.9" y="267.9" style="font-size:10.3px" textLength="13.5" lengthAdjust="spacingAndGlyphs">75</text>
<text class="d" x="335.0" y="286.7" style="font-size:8.3px" textLength="27.9" lengthAdjust="spacingAndGlyphs">2.06 ± Ac</text>
<text class="d" transform="translate(404.1,273.2) rotate(-90)" x="-10.8" y="2.9" style="font-size:8.3px" textLength="21.6" lengthAdjust="spacingAndGlyphs">271.50</text>
<text class="d" x="436.3" y="229.0" style="font-size:8.3px" textLength="23.1" lengthAdjust="spacingAndGlyphs">229.45</text>
<text class="d" transform="translate(471.4,215.6) rotate(-90)" x="-4.3" y="2.9" style="font-size:8.3px" textLength="8.5" lengthAdjust="spacingAndGlyphs">30</text>
<text class="d" transform="translate(483.5,211.2) rotate(-90)" x="-3.8" y="2.9" style="font-size:8.3px" textLength="7.5" lengthAdjust="spacingAndGlyphs">60</text>
<text class="rg" transform="translate(498.2,218.3) rotate(-90)" x="-4.7" y="2.8" style="font-size:8.0px" textLength="9.3" lengthAdjust="spacingAndGlyphs">44</text>
<text class="rg" transform="translate(506.3,210.6) rotate(-90)" x="-5.0" y="2.8" style="font-size:8.0px" textLength="10.1" lengthAdjust="spacingAndGlyphs">74</text>
<text class="d" x="498.8" y="235.1" style="font-size:8.3px" textLength="10.1" lengthAdjust="spacingAndGlyphs">105</text>
<text class="d" transform="translate(484.4,224.5) rotate(-90)" x="-3.5" y="2.9" style="font-size:8.3px" textLength="7.0" lengthAdjust="spacingAndGlyphs">14</text>
<text class="cn" x="448.3" y="271.7" style="font-size:8.8px" textLength="9.9" lengthAdjust="spacingAndGlyphs">14</text>
<text class="n" x="464.6" y="268.3" style="font-size:10.3px" textLength="14.4" lengthAdjust="spacingAndGlyphs">74</text>
<text class="d" x="450.9" y="286.7" style="font-size:8.3px" textLength="31.2" lengthAdjust="spacingAndGlyphs">2.03 ± Ac.</text>
<text class="d" transform="translate(522.5,277.2) rotate(-90)" x="-11.6" y="2.9" style="font-size:8.3px" textLength="23.1" lengthAdjust="spacingAndGlyphs">257.50</text>
<text class="d" transform="translate(549.2,218.8) rotate(-90)" x="-4.2" y="2.9" style="font-size:8.3px" textLength="8.4" lengthAdjust="spacingAndGlyphs">44</text>
<text class="d" x="532.0" y="234.3" style="font-size:8.3px" textLength="9.2" lengthAdjust="spacingAndGlyphs">44</text>
<text class="d" x="570.1" y="217.7" style="font-size:8.3px" textLength="23.9" lengthAdjust="spacingAndGlyphs">254.45</text>
<text class="cn" x="570.7" y="270.3" style="font-size:8.8px" textLength="9.9" lengthAdjust="spacingAndGlyphs">13</text>
<text class="n" x="587.8" y="268.5" style="font-size:10.3px" textLength="14.9" lengthAdjust="spacingAndGlyphs">73</text>
<text class="d" x="573.3" y="286.5" style="font-size:8.3px" textLength="31.2" lengthAdjust="spacingAndGlyphs">2.02 ± Ac</text>
<text class="d" transform="translate(634.1,271.1) rotate(-90)" x="-9.6" y="2.9" style="font-size:8.3px" textLength="19.1" lengthAdjust="spacingAndGlyphs">288.61</text>
<text class="st" transform="translate(645.0,278.9) rotate(-90)" x="-15.7" y="3.5" style="font-size:10px" textLength="31.4" lengthAdjust="spacingAndGlyphs">112TH</text>
<text class="d" transform="translate(645.7,245.6) rotate(-90)" x="-10.8" y="2.9" style="font-size:8.3px" textLength="21.5" lengthAdjust="spacingAndGlyphs">331.50</text>
<text class="d" x="606.6" y="304.6" style="font-size:7.6px" textLength="18.0" lengthAdjust="spacingAndGlyphs">R=13</text>
<text class="d" x="606.6" y="311.2" style="font-size:7.6px" textLength="19.0" lengthAdjust="spacingAndGlyphs">20.31</text>
<text class="rg" x="639.9" y="304.8" style="font-size:8.0px" textLength="8.5" lengthAdjust="spacingAndGlyphs">32</text>
<text class="d" x="562.0" y="317.1" style="font-size:8.3px" textLength="23.9" lengthAdjust="spacingAndGlyphs">285.56</text>
<text class="f" x="564.4" y="327.2" style="font-size:8.3px" textLength="72.6" lengthAdjust="spacingAndGlyphs">( Prt.   ¢  Future</text>
<text class="f" transform="translate(541.9,209.0) rotate(-90)" x="-5.0" y="2.9" style="font-size:8.3px" textLength="10.0" lengthAdjust="spacingAndGlyphs">(Fu</text>
<text class="d" x="699.0" y="229.0" style="font-size:8.3px" textLength="22.3" lengthAdjust="spacingAndGlyphs">285.99</text>
<text class="d" x="673.8" y="237.0" style="font-size:7.6px" textLength="14.0" lengthAdjust="spacingAndGlyphs">R=13</text>
<text class="d" x="673.8" y="243.2" style="font-size:7.6px" textLength="15.0" lengthAdjust="spacingAndGlyphs">20.31</text>
<text class="f" transform="translate(656.2,254.1) rotate(-90)" x="-36.3" y="2.9" style="font-size:8.3px" textLength="72.6" lengthAdjust="spacingAndGlyphs">( Prt. ¢  Future  St. )</text>
<text class="d" transform="translate(666.7,274.9) rotate(-90)" x="-11.6" y="2.9" style="font-size:8.3px" textLength="23.1" lengthAdjust="spacingAndGlyphs">245.50</text>
<text class="n" x="717.6" y="268.8" style="font-size:10.3px" textLength="14.4" lengthAdjust="spacingAndGlyphs">72</text>
<text class="cn" x="740.1" y="272.7" style="font-size:8.8px" textLength="9.9" lengthAdjust="spacingAndGlyphs">12</text>
<text class="d" x="715.2" y="287.5" style="font-size:8.3px" textLength="31.3" lengthAdjust="spacingAndGlyphs">1.96 ± Ac.</text>
<text class="d" transform="translate(762.5,270.8) rotate(-90)" x="-11.6" y="2.9" style="font-size:8.3px" textLength="23.1" lengthAdjust="spacingAndGlyphs">271.50</text>
<text class="d" x="672.2" y="303.5" style="font-size:7.6px" textLength="14.8" lengthAdjust="spacingAndGlyphs">R=13</text>
<text class="d" x="672.2" y="309.8" style="font-size:7.6px" textLength="15.8" lengthAdjust="spacingAndGlyphs">20.53</text>
<text class="d" x="699.0" y="316.3" style="font-size:8.3px" textLength="22.3" lengthAdjust="spacingAndGlyphs">285.77</text>
<text class="f" x="652.0" y="327.3" style="font-size:8.3px" textLength="19.0" lengthAdjust="spacingAndGlyphs">St. )</text>
<text class="rg" x="652.0" y="304.8" style="font-size:8.0px" textLength="7.6" lengthAdjust="spacingAndGlyphs">32</text>
<text class="rg" x="650.0" y="310.3" style="font-size:8.0px" textLength="8.0" lengthAdjust="spacingAndGlyphs">60</text>
<text class="cn" x="806.8" y="271.7" style="font-size:8.8px" textLength="9.9" lengthAdjust="spacingAndGlyphs">11</text>
<text class="n" x="823.6" y="268.7" style="font-size:10.3px" textLength="10.6" lengthAdjust="spacingAndGlyphs">71</text>
<text class="d" x="808.3" y="286.1" style="font-size:8.3px" textLength="30.4" lengthAdjust="spacingAndGlyphs">2.06 ± Ac</text>
<text class="d" transform="translate(883.1,276.0) rotate(-90)" x="-11.2" y="2.9" style="font-size:8.3px" textLength="22.3" lengthAdjust="spacingAndGlyphs">271.50</text>
<text class="d" x="808.3" y="328.5" style="font-size:8.3px" textLength="23.9" lengthAdjust="spacingAndGlyphs">330.88</text>
<text class="cn" x="925.2" y="272.2" style="font-size:8.8px" textLength="9.9" lengthAdjust="spacingAndGlyphs">10</text>
<text class="n" x="940.3" y="269.1" style="font-size:10.3px" textLength="13.9" lengthAdjust="spacingAndGlyphs">70</text>
<text class="d" x="928.3" y="285.6" style="font-size:8.3px" textLength="31.2" lengthAdjust="spacingAndGlyphs">2.06 ± Ac</text>
<text class="d" transform="translate(1002.3,276.9) rotate(-90)" x="-11.2" y="2.9" style="font-size:8.3px" textLength="22.3" lengthAdjust="spacingAndGlyphs">271.50</text>
<text class="d" transform="translate(1071.3,216.4) rotate(-90)" x="-3.5" y="2.9" style="font-size:8.3px" textLength="6.9" lengthAdjust="spacingAndGlyphs">30</text>
<text class="d" transform="translate(1081.0,212.7) rotate(-90)" x="-3.0" y="2.9" style="font-size:8.3px" textLength="6.0" lengthAdjust="spacingAndGlyphs">60</text>
<text class="d" x="1031.4" y="229.8" style="font-size:8.3px" textLength="21.5" lengthAdjust="spacingAndGlyphs">213.93</text>
<text class="d" x="1060.6" y="236.4" style="font-size:7.6px" textLength="14.8" lengthAdjust="spacingAndGlyphs">R=13</text>
<text class="d" x="1060.6" y="243.0" style="font-size:7.6px" textLength="15.8" lengthAdjust="spacingAndGlyphs">20.54</text>
<text class="rg" x="1093.0" y="236.0" style="font-size:8.0px" textLength="11.0" lengthAdjust="spacingAndGlyphs">54</text>
<text class="cn" x="1024.9" y="270.8" style="font-size:9.8px" textLength="5.4" lengthAdjust="spacingAndGlyphs">9</text>
<text class="n" x="1038.6" y="269.4" style="font-size:10.3px" textLength="15.7" lengthAdjust="spacingAndGlyphs">69</text>
<text class="d" x="1025.8" y="285.3" style="font-size:8.3px" textLength="32.8" lengthAdjust="spacingAndGlyphs">1.41 ± Ac.</text>
<text class="d" transform="translate(1082.7,270.7) rotate(-90)" x="-10.7" y="2.9" style="font-size:8.3px" textLength="21.4" lengthAdjust="spacingAndGlyphs">245.50</text>
<text class="f" transform="translate(1095.7,282.0) rotate(-90)" x="-31.0" y="2.9" style="font-size:8.3px" textLength="62.0" lengthAdjust="spacingAndGlyphs">( Future   St. )</text>
<text class="d" transform="translate(1103.8,275.9) rotate(-90)" x="-11.1" y="2.9" style="font-size:8.3px" textLength="22.2" lengthAdjust="spacingAndGlyphs">301.50</text>
<text class="d" x="1060.3" y="308.5" style="font-size:7.6px" textLength="14.3" lengthAdjust="spacingAndGlyphs">R=13</text>
<text class="d" x="1060.3" y="315.2" style="font-size:7.6px" textLength="15.3" lengthAdjust="spacingAndGlyphs">20.30</text>
<text class="d" x="1022.5" y="316.6" style="font-size:8.3px" textLength="22.3" lengthAdjust="spacingAndGlyphs">214.08</text>
<text class="d" x="1018.5" y="327.9" style="font-size:8.3px" textLength="23.0" lengthAdjust="spacingAndGlyphs">280.96</text>
<text class="st" x="1049.2" y="328.3" style="font-size:10.5px" textLength="25.0" lengthAdjust="spacingAndGlyphs">B-10</text>
<text class="d" transform="translate(1088.4,324.2) rotate(-90)" x="-4.2" y="2.9" style="font-size:8.3px" textLength="8.4" lengthAdjust="spacingAndGlyphs">30</text>
<text class="d" transform="translate(1099.7,328.5) rotate(-90)" x="-4.5" y="2.9" style="font-size:8.3px" textLength="9.0" lengthAdjust="spacingAndGlyphs">60</text>
<text class="d" transform="translate(194.0,334.9) rotate(-90)" x="-5.1" y="2.9" style="font-size:8.3px" textLength="10.1" lengthAdjust="spacingAndGlyphs">60</text>
<text class="d" transform="translate(199.0,334.9) rotate(-90)" x="-5.1" y="2.9" style="font-size:8.3px" textLength="10.1" lengthAdjust="spacingAndGlyphs">30</text>
<text class="d" x="182.5" y="348.0" style="font-size:8.3px" textLength="16.6" lengthAdjust="spacingAndGlyphs">56.89</text>
<text class="d" x="233.6" y="347.6" style="font-size:8.3px" textLength="22.3" lengthAdjust="spacingAndGlyphs">224.46</text>
<text class="d" x="215.0" y="354.3" style="font-size:7.6px" textLength="15.6" lengthAdjust="spacingAndGlyphs">R=13</text>
<text class="d" x="215.0" y="361.4" style="font-size:7.6px" textLength="16.6" lengthAdjust="spacingAndGlyphs">20.31</text>
<text class="f" transform="translate(175.4,391.7) rotate(-90)" x="-45.6" y="2.9" style="font-size:8.3px" textLength="91.2" lengthAdjust="spacingAndGlyphs">( Prt  ¢  "  Future   St. )</text>
<text class="d" transform="translate(187.6,398.6) rotate(-90)" x="-11.2" y="2.9" style="font-size:8.3px" textLength="22.3" lengthAdjust="spacingAndGlyphs">301.50</text>
<text class="f" transform="translate(194.9,401.0) rotate(-90)" x="-29.0" y="2.9" style="font-size:8.3px" textLength="58.0" lengthAdjust="spacingAndGlyphs">( Future    St. )</text>
<text class="d" transform="translate(206.2,397.8) rotate(-90)" x="-10.3" y="2.9" style="font-size:8.3px" textLength="20.6" lengthAdjust="spacingAndGlyphs">245.50</text>
<text class="n" x="239.2" y="393.7" style="font-size:10.3px" textLength="15.2" lengthAdjust="spacingAndGlyphs">7 7</text>
<text class="cn" x="260.2" y="395.3" style="font-size:8.8px" textLength="9.9" lengthAdjust="spacingAndGlyphs">17</text>
<text class="d" x="236.1" y="410.1" style="font-size:8.3px" textLength="30.4" lengthAdjust="spacingAndGlyphs">1.48 ± Ac</text>
<text class="d" transform="translate(284.1,395.4) rotate(-90)" x="-9.6" y="2.9" style="font-size:8.3px" textLength="19.1" lengthAdjust="spacingAndGlyphs">271.50</text>
<text class="d" x="212.5" y="423.9" style="font-size:7.6px" textLength="16.5" lengthAdjust="spacingAndGlyphs">R=13</text>
<text class="d" x="212.5" y="430.6" style="font-size:7.6px" textLength="17.5" lengthAdjust="spacingAndGlyphs">20.53</text>
<text class="d" x="232.0" y="436.0" style="font-size:8.3px" textLength="22.3" lengthAdjust="spacingAndGlyphs">224.15</text>
<text class="d" x="232.0" y="447.4" style="font-size:8.3px" textLength="22.3" lengthAdjust="spacingAndGlyphs">331.23</text>
<text class="d" transform="translate(213.5,443.5) rotate(-90)" x="-4.5" y="2.9" style="font-size:8.3px" textLength="9.0" lengthAdjust="spacingAndGlyphs">30</text>
<text class="d" transform="translate(221.7,443.5) rotate(-90)" x="-4.5" y="2.9" style="font-size:8.3px" textLength="9.0" lengthAdjust="spacingAndGlyphs">60</text>
<text class="cn" x="328.7" y="398.6" style="font-size:8.8px" textLength="9.9" lengthAdjust="spacingAndGlyphs">18</text>
<text class="n" x="345.0" y="394.6" style="font-size:10.3px" textLength="15.2" lengthAdjust="spacingAndGlyphs">78</text>
<text class="d" x="332.1" y="411.7" style="font-size:8.3px" textLength="32.9" lengthAdjust="spacingAndGlyphs">2.06 ± Ac</text>
<text class="d" transform="translate(402.9,396.6) rotate(-90)" x="-12.4" y="2.9" style="font-size:8.3px" textLength="24.7" lengthAdjust="spacingAndGlyphs">271.50</text>
<text class="f" x="307.8" y="445.8" style="font-size:8.3px" textLength="55.6" lengthAdjust="spacingAndGlyphs">( Future   St )</text>
<text class="d" x="443.2" y="349.6" style="font-size:8.3px" textLength="23.9" lengthAdjust="spacingAndGlyphs">287.34</text>
<text class="d" x="490.0" y="356.6" style="font-size:7.6px" textLength="15.1" lengthAdjust="spacingAndGlyphs">R=13</text>
<text class="d" x="490.0" y="363.2" style="font-size:7.6px" textLength="16.1" lengthAdjust="spacingAndGlyphs">20.53</text>
<text class="st" transform="translate(522.1,377.1) rotate(-90)" x="-12.4" y="3.4" style="font-size:9.8px" textLength="24.9" lengthAdjust="spacingAndGlyphs">ST. W.</text>
<text class="d" transform="translate(511.6,395.4) rotate(-90)" x="-12.0" y="2.9" style="font-size:8.3px" textLength="24.0" lengthAdjust="spacingAndGlyphs">245.50</text>
<text class="d" transform="translate(522.9,405.9) rotate(-90)" x="-12.8" y="2.9" style="font-size:8.3px" textLength="25.5" lengthAdjust="spacingAndGlyphs">331.50</text>
<text class="cn" x="426.3" y="395.7" style="font-size:8.8px" textLength="9.9" lengthAdjust="spacingAndGlyphs">19</text>
<text class="n" x="443.1" y="395.6" style="font-size:10.3px" textLength="13.6" lengthAdjust="spacingAndGlyphs">79</text>
<text class="d" x="429.4" y="412.1" style="font-size:8.3px" textLength="32.0" lengthAdjust="spacingAndGlyphs">1.87 ± Ac.</text>
<text class="d" x="485.1" y="423.3" style="font-size:7.6px" textLength="15.9" lengthAdjust="spacingAndGlyphs">R=13</text>
<text class="d" x="485.1" y="430.4" style="font-size:7.6px" textLength="16.9" lengthAdjust="spacingAndGlyphs">20.31</text>
<text class="d" x="443.2" y="436.5" style="font-size:8.3px" textLength="23.9" lengthAdjust="spacingAndGlyphs">287.66</text>
<text class="d" x="444.0" y="447.6" style="font-size:8.3px" textLength="24.0" lengthAdjust="spacingAndGlyphs">300.45</text>
<text class="d" transform="translate(485.6,443.7) rotate(-90)" x="-4.3" y="2.9" style="font-size:8.3px" textLength="8.6" lengthAdjust="spacingAndGlyphs">70</text>
<text class="d" x="572.1" y="337.3" style="font-size:8.3px" textLength="20.7" lengthAdjust="spacingAndGlyphs">330.45</text>
<text class="d" x="578.6" y="350.5" style="font-size:8.3px" textLength="23.9" lengthAdjust="spacingAndGlyphs">287.56</text>
<text class="d" x="548.6" y="357.1" style="font-size:7.6px" textLength="16.4" lengthAdjust="spacingAndGlyphs">R=13</text>
<text class="d" x="548.6" y="363.2" style="font-size:7.6px" textLength="17.4" lengthAdjust="spacingAndGlyphs">20.31</text>
<text class="rg" x="529.0" y="353.9" style="font-size:8.0px" textLength="8.6" lengthAdjust="spacingAndGlyphs">60</text>
<text class="rg" x="529.0" y="361.3" style="font-size:8.0px" textLength="8.6" lengthAdjust="spacingAndGlyphs">30</text>
<text class="f" transform="translate(532.6,420.6) rotate(-90)" x="-27.4" y="2.9" style="font-size:8.3px" textLength="54.8" lengthAdjust="spacingAndGlyphs">Future   St. )</text>
<text class="d" transform="translate(544.4,401.9) rotate(-90)" x="-11.2" y="2.9" style="font-size:8.3px" textLength="22.3" lengthAdjust="spacingAndGlyphs">288.81</text>
<text class="cn" x="575.2" y="397.3" style="font-size:8.8px" textLength="9.9" lengthAdjust="spacingAndGlyphs">20</text>
<text class="n" x="591.5" y="396.2" style="font-size:10.3px" textLength="16.0" lengthAdjust="spacingAndGlyphs">80</text>
<text class="d" x="577.8" y="413.4" style="font-size:8.3px" textLength="32.9" lengthAdjust="spacingAndGlyphs">2.09 ± Ac.</text>
<text class="d" transform="translate(643.8,399.5) rotate(-90)" x="-11.2" y="2.9" style="font-size:8.3px" textLength="22.3" lengthAdjust="spacingAndGlyphs">257.50</text>
<text class="d" x="633.0" y="431.6" style="font-size:8.3px" textLength="11.0" lengthAdjust="spacingAndGlyphs">44</text>
<text class="d" transform="translate(627.5,442.1) rotate(-90)" x="-5.1" y="2.9" style="font-size:8.3px" textLength="10.1" lengthAdjust="spacingAndGlyphs">44</text>
<text class="d" x="564.8" y="448.3" style="font-size:8.3px" textLength="24.8" lengthAdjust="spacingAndGlyphs">256.45</text>
<text class="d" x="683.2" y="350.0" style="font-size:8.3px" textLength="23.1" lengthAdjust="spacingAndGlyphs">281.77</text>
<text class="d" x="731.1" y="355.5" style="font-size:7.6px" textLength="13.2" lengthAdjust="spacingAndGlyphs">R=13</text>
<text class="d" x="731.1" y="362.3" style="font-size:7.6px" textLength="14.2" lengthAdjust="spacingAndGlyphs">18.53</text>
<text class="st" transform="translate(762.1,376.3) rotate(-90)" x="-14.9" y="3.4" style="font-size:9.8px" textLength="29.8" lengthAdjust="spacingAndGlyphs">ST. W.</text>
<text class="rg" transform="translate(761.3,350.5) rotate(-90)" x="-4.5" y="2.8" style="font-size:8.0px" textLength="9.0" lengthAdjust="spacingAndGlyphs">30</text>
<text class="rg" transform="translate(764.6,357.5) rotate(-90)" x="-4.5" y="2.8" style="font-size:8.0px" textLength="9.0" lengthAdjust="spacingAndGlyphs">60</text>
<text class="d" transform="translate(752.4,393.8) rotate(-90)" x="-12.0" y="2.9" style="font-size:8.3px" textLength="23.9" lengthAdjust="spacingAndGlyphs">245.50</text>
<text class="d" transform="translate(762.5,404.8) rotate(-90)" x="-11.6" y="2.9" style="font-size:8.3px" textLength="23.1" lengthAdjust="spacingAndGlyphs">331.50</text>
<text class="cn" x="667.6" y="397.0" style="font-size:8.8px" textLength="9.9" lengthAdjust="spacingAndGlyphs">21</text>
<text class="n" x="683.9" y="396.6" style="font-size:10.3px" textLength="12.0" lengthAdjust="spacingAndGlyphs">81</text>
<text class="d" x="671.0" y="412.2" style="font-size:8.3px" textLength="29.6" lengthAdjust="spacingAndGlyphs">1.84 ± Ac</text>
<text class="d" x="732.7" y="425.8" style="font-size:7.6px" textLength="13.2" lengthAdjust="spacingAndGlyphs">R=13</text>
<text class="d" x="732.7" y="432.8" style="font-size:7.6px" textLength="14.2" lengthAdjust="spacingAndGlyphs">20.81</text>
<text class="d" x="662.1" y="431.2" style="font-size:8.3px" textLength="11.7" lengthAdjust="spacingAndGlyphs">105</text>
<text class="d" x="701.9" y="435.7" style="font-size:8.3px" textLength="21.5" lengthAdjust="spacingAndGlyphs">182.99</text>
<text class="d" transform="translate(681.8,440.4) rotate(-90)" x="-4.3" y="2.9" style="font-size:8.3px" textLength="8.5" lengthAdjust="spacingAndGlyphs">44</text>
<text class="d" x="692.1" y="447.1" style="font-size:8.3px" textLength="19.9" lengthAdjust="spacingAndGlyphs">300.88</text>
<text class="d" transform="translate(723.2,444.5) rotate(-90)" x="-4.5" y="2.9" style="font-size:8.3px" textLength="9.0" lengthAdjust="spacingAndGlyphs">30</text>
<text class="d" transform="translate(734.5,444.5) rotate(-90)" x="-4.5" y="2.9" style="font-size:8.3px" textLength="9.0" lengthAdjust="spacingAndGlyphs">60</text>
<text class="d" x="813.6" y="349.6" style="font-size:8.3px" textLength="23.1" lengthAdjust="spacingAndGlyphs">287.99</text>
<text class="d" x="789.2" y="355.5" style="font-size:7.6px" textLength="14.8" lengthAdjust="spacingAndGlyphs">R=13</text>
<text class="d" x="789.2" y="362.3" style="font-size:7.6px" textLength="15.8" lengthAdjust="spacingAndGlyphs">20.31</text>
<text class="rg" x="768.1" y="353.5" style="font-size:8.0px" textLength="9.3" lengthAdjust="spacingAndGlyphs">60</text>
<text class="rg" x="768.1" y="360.8" style="font-size:8.0px" textLength="9.3" lengthAdjust="spacingAndGlyphs">30</text>
<text class="d" transform="translate(783.7,392.5) rotate(-90)" x="-12.4" y="2.9" style="font-size:8.3px" textLength="24.7" lengthAdjust="spacingAndGlyphs">245.50</text>
<text class="f" transform="translate(773.2,423.0) rotate(-90)" x="-22.5" y="2.9" style="font-size:8.3px" textLength="45.0" lengthAdjust="spacingAndGlyphs">Future  St. )</text>
<text class="n" x="832.6" y="396.7" style="font-size:10.3px" textLength="17.2" lengthAdjust="spacingAndGlyphs">82</text>
<text class="cn" x="858.9" y="398.9" style="font-size:8.8px" textLength="9.9" lengthAdjust="spacingAndGlyphs">22</text>
<text class="d" x="833.0" y="412.5" style="font-size:8.3px" textLength="29.6" lengthAdjust="spacingAndGlyphs">1.87 ± Ac.</text>
<text class="d" transform="translate(882.8,397.9) rotate(-90)" x="-10.4" y="2.9" style="font-size:8.3px" textLength="20.7" lengthAdjust="spacingAndGlyphs">271.50</text>
<text class="d" x="790.8" y="426.2" style="font-size:7.6px" textLength="14.8" lengthAdjust="spacingAndGlyphs">R=13</text>
<text class="d" x="790.8" y="432.4" style="font-size:7.6px" textLength="15.8" lengthAdjust="spacingAndGlyphs">20.53</text>
<text class="d" x="817.6" y="435.7" style="font-size:8.3px" textLength="23.1" lengthAdjust="spacingAndGlyphs">287.77</text>
<text class="d" transform="translate(800.0,444.9) rotate(-90)" x="-3.9" y="2.9" style="font-size:8.3px" textLength="7.8" lengthAdjust="spacingAndGlyphs">60</text>
<text class="d" transform="translate(808.9,444.9) rotate(-90)" x="-3.9" y="2.9" style="font-size:8.3px" textLength="7.8" lengthAdjust="spacingAndGlyphs">30</text>
<text class="d" x="820.0" y="447.8" style="font-size:8.3px" textLength="24.0" lengthAdjust="spacingAndGlyphs">300.88</text>
<text class="cn" x="926.4" y="397.3" style="font-size:8.8px" textLength="9.9" lengthAdjust="spacingAndGlyphs">23</text>
<text class="n" x="942.4" y="396.8" style="font-size:10.3px" textLength="16.0" lengthAdjust="spacingAndGlyphs">83</text>
<text class="d" x="928.7" y="412.5" style="font-size:8.3px" textLength="32.8" lengthAdjust="spacingAndGlyphs">2.06 ± Ac.</text>
<text class="d" transform="translate(1001.9,397.0) rotate(-90)" x="-11.2" y="2.9" style="font-size:8.3px" textLength="22.3" lengthAdjust="spacingAndGlyphs">271.50</text>
<text class="f" x="909.2" y="446.2" style="font-size:8.3px" textLength="62.1" lengthAdjust="spacingAndGlyphs">( Future     St. )</text>
<text class="d" x="1026.4" y="350.0" style="font-size:8.3px" textLength="22.2" lengthAdjust="spacingAndGlyphs">213.83</text>
<text class="d" x="1061.2" y="354.1" style="font-size:7.6px" textLength="13.2" lengthAdjust="spacingAndGlyphs">R=13</text>
<text class="d" x="1061.2" y="360.8" style="font-size:7.6px" textLength="14.2" lengthAdjust="spacingAndGlyphs">20.54</text>
<text class="d" transform="translate(1089.8,335.4) rotate(-90)" x="-4.7" y="2.9" style="font-size:8.3px" textLength="9.3" lengthAdjust="spacingAndGlyphs">30</text>
<text class="d" transform="translate(1102.0,335.4) rotate(-90)" x="-4.7" y="2.9" style="font-size:8.3px" textLength="9.3" lengthAdjust="spacingAndGlyphs">60</text>
<text class="f" transform="translate(1093.9,396.5) rotate(-90)" x="-32.7" y="2.9" style="font-size:8.3px" textLength="65.3" lengthAdjust="spacingAndGlyphs">( Future       St. )</text>
<text class="d" transform="translate(1103.6,387.2) rotate(-90)" x="-12.0" y="2.9" style="font-size:8.3px" textLength="23.9" lengthAdjust="spacingAndGlyphs">301.50</text>
<text class="d" transform="translate(1084.1,392.5) rotate(-90)" x="-11.5" y="2.9" style="font-size:8.3px" textLength="23.0" lengthAdjust="spacingAndGlyphs">245.50</text>
<text class="cn" x="1020.9" y="397.2" style="font-size:8.8px" textLength="9.9" lengthAdjust="spacingAndGlyphs">24</text>
<text class="n" x="1036.8" y="396.9" style="font-size:10.3px" textLength="16.8" lengthAdjust="spacingAndGlyphs">84</text>
<text class="d" x="1024.8" y="412.5" style="font-size:8.3px" textLength="29.5" lengthAdjust="spacingAndGlyphs">1.41 ± Ac.</text>
<text class="d" x="1061.2" y="423.0" style="font-size:7.6px" textLength="13.2" lengthAdjust="spacingAndGlyphs">R=13</text>
<text class="d" x="1061.2" y="429.7" style="font-size:7.6px" textLength="14.2" lengthAdjust="spacingAndGlyphs">20.30</text>
<text class="d" x="1029.6" y="436.4" style="font-size:8.3px" textLength="22.3" lengthAdjust="spacingAndGlyphs">213.95</text>
<text class="d" x="1026.4" y="447.3" style="font-size:8.3px" textLength="22.2" lengthAdjust="spacingAndGlyphs">280.82</text>
<text class="d" transform="translate(1061.4,443.1) rotate(-90)" x="-4.7" y="2.9" style="font-size:8.3px" textLength="9.3" lengthAdjust="spacingAndGlyphs">30</text>
<text class="rg" x="1069.0" y="447.8" style="font-size:8.0px" textLength="6.0" lengthAdjust="spacingAndGlyphs">0</text>
<text class="d" transform="translate(213.2,453.7) rotate(-90)" x="-4.7" y="2.9" style="font-size:8.3px" textLength="9.4" lengthAdjust="spacingAndGlyphs">60</text>
<text class="d" transform="translate(222.1,453.7) rotate(-90)" x="-4.7" y="2.9" style="font-size:8.3px" textLength="9.4" lengthAdjust="spacingAndGlyphs">30</text>
<text class="d" x="230.8" y="457.0" style="font-size:8.3px" textLength="21.5" lengthAdjust="spacingAndGlyphs">291.23</text>
<text class="d" x="236.5" y="467.0" style="font-size:8.3px" textLength="21.5" lengthAdjust="spacingAndGlyphs">224.31</text>
<text class="rg" x="185.4" y="472.0" style="font-size:8.0px" textLength="9.3" lengthAdjust="spacingAndGlyphs">54</text>
<text class="d" transform="translate(206.7,469.5) rotate(-90)" x="-6.7" y="2.9" style="font-size:8.3px" textLength="13.4" lengthAdjust="spacingAndGlyphs">30.46</text>
<text class="d" x="216.2" y="474.1" style="font-size:7.6px" textLength="15.6" lengthAdjust="spacingAndGlyphs">R=13</text>
<text class="d" x="216.2" y="480.8" style="font-size:7.6px" textLength="16.6" lengthAdjust="spacingAndGlyphs">20.31</text>
<text class="d" transform="translate(172.6,505.2) rotate(-90)" x="-9.9" y="2.9" style="font-size:8.3px" textLength="19.8" lengthAdjust="spacingAndGlyphs">331.50</text>
<text class="d" transform="translate(185.6,509.2) rotate(-90)" x="-10.8" y="2.9" style="font-size:8.3px" textLength="21.5" lengthAdjust="spacingAndGlyphs">196.39</text>
<text class="d" transform="translate(201.8,516.5) rotate(-90)" x="-9.9" y="2.7" style="font-size:7.6px" textLength="19.9" lengthAdjust="spacingAndGlyphs">R=18</text>
<text class="d" transform="translate(206.0,516.5) rotate(-90)" x="-9.9" y="2.7" style="font-size:7.6px" textLength="19.9" lengthAdjust="spacingAndGlyphs">18.53</text>
<text class="d" transform="translate(212.3,510.9) rotate(-90)" x="-10.7" y="2.9" style="font-size:8.3px" textLength="21.4" lengthAdjust="spacingAndGlyphs">109.73</text>
<text class="n" x="238.8" y="510.7" style="font-size:10.3px" textLength="16.0" lengthAdjust="spacingAndGlyphs">92</text>
<text class="cn" x="261.0" y="514.0" style="font-size:8.8px" textLength="9.9" lengthAdjust="spacingAndGlyphs">32</text>
<text class="d" x="239.7" y="528.6" style="font-size:8.3px" textLength="31.3" lengthAdjust="spacingAndGlyphs">1.33 ± Ac.</text>
<text class="d" transform="translate(282.1,513.0) rotate(-90)" x="-11.2" y="2.9" style="font-size:8.3px" textLength="22.3" lengthAdjust="spacingAndGlyphs">269.50</text>
<text class="d" x="191.1" y="541.4" style="font-size:7.6px" textLength="15.6" lengthAdjust="spacingAndGlyphs">R=13</text>
<text class="d" x="191.1" y="548.1" style="font-size:7.6px" textLength="16.6" lengthAdjust="spacingAndGlyphs">20.53</text>
<text class="d" x="234.9" y="540.6" style="font-size:7.6px" textLength="17.2" lengthAdjust="spacingAndGlyphs">R=13</text>
<text class="d" x="234.9" y="547.3" style="font-size:7.6px" textLength="18.2" lengthAdjust="spacingAndGlyphs">13.44</text>
<text class="d" transform="translate(226.1,542.5) rotate(-60)" x="-6.7" y="2.9" style="font-size:8.3px" textLength="13.3" lengthAdjust="spacingAndGlyphs">61.30</text>
<text class="d" x="200.8" y="554.4" style="font-size:8.3px" textLength="18.2" lengthAdjust="spacingAndGlyphs">127.27</text>
<text class="d" x="254.3" y="554.4" style="font-size:8.3px" textLength="21.5" lengthAdjust="spacingAndGlyphs">150.72</text>
<text class="rg" x="170.0" y="547.0" style="font-size:8.0px" textLength="7.7" lengthAdjust="spacingAndGlyphs">40</text>
<text class="rg" x="161.0" y="533.2" style="font-size:8.0px" textLength="10.2" lengthAdjust="spacingAndGlyphs">80</text>
<text class="d" transform="translate(191.3,561.6) rotate(-90)" x="-4.6" y="2.9" style="font-size:8.3px" textLength="9.2" lengthAdjust="spacingAndGlyphs">64</text>
<text class="d" transform="translate(196.1,561.6) rotate(-90)" x="-4.6" y="2.9" style="font-size:8.3px" textLength="9.2" lengthAdjust="spacingAndGlyphs">32</text>
<text class="d" x="217.8" y="566.2" style="font-size:8.3px" textLength="24.7" lengthAdjust="spacingAndGlyphs">331.09</text>
<text class="cn" x="326.2" y="511.6" style="font-size:8.8px" textLength="9.9" lengthAdjust="spacingAndGlyphs">31</text>
<text class="n" x="342.5" y="511.3" style="font-size:10.3px" textLength="12.5" lengthAdjust="spacingAndGlyphs">91</text>
<text class="d" x="330.1" y="527.9" style="font-size:8.3px" textLength="35.3" lengthAdjust="spacingAndGlyphs">2.04 ± Ac.</text>
<text class="d" transform="translate(401.8,520.7) rotate(-90)" x="-11.6" y="2.9" style="font-size:8.3px" textLength="23.1" lengthAdjust="spacingAndGlyphs">269.50</text>
<text class="d" x="327.7" y="566.2" style="font-size:8.3px" textLength="24.7" lengthAdjust="spacingAndGlyphs">330.46</text>
<text class="f" x="364.2" y="566.4" style="font-size:8.3px" textLength="34.5" lengthAdjust="spacingAndGlyphs">( Prt    ¢</text>
<text class="d" x="441.5" y="469.2" style="font-size:8.3px" textLength="24.5" lengthAdjust="spacingAndGlyphs">287.34</text>
<text class="d" transform="translate(488.5,453.7) rotate(-90)" x="-5.5" y="2.9" style="font-size:8.3px" textLength="11.0" lengthAdjust="spacingAndGlyphs">30</text>
<text class="d" transform="translate(495.8,453.7) rotate(-90)" x="-5.5" y="2.9" style="font-size:8.3px" textLength="11.0" lengthAdjust="spacingAndGlyphs">60</text>
<text class="d" x="484.2" y="475.1" style="font-size:7.6px" textLength="16.4" lengthAdjust="spacingAndGlyphs">R=13</text>
<text class="d" x="484.2" y="482.2" style="font-size:7.6px" textLength="17.4" lengthAdjust="spacingAndGlyphs">20.53</text>
<text class="d" transform="translate(522.6,478.9) rotate(-90)" x="-11.2" y="2.9" style="font-size:8.3px" textLength="22.3" lengthAdjust="spacingAndGlyphs">331.50</text>
<text class="st" transform="translate(521.0,513.4) rotate(-90)" x="-16.5" y="3.5" style="font-size:10px" textLength="33.0" lengthAdjust="spacingAndGlyphs">113TH</text>
<text class="d" transform="translate(511.2,520.7) rotate(-90)" x="-10.7" y="2.9" style="font-size:8.3px" textLength="21.4" lengthAdjust="spacingAndGlyphs">243.31</text>
<text class="cn" x="425.1" y="512.1" style="font-size:8.8px" textLength="9.9" lengthAdjust="spacingAndGlyphs">30</text>
<text class="n" x="441.4" y="511.3" style="font-size:10.3px" textLength="14.9" lengthAdjust="spacingAndGlyphs">90</text>
<text class="d" x="432.3" y="528.5" style="font-size:8.3px" textLength="34.4" lengthAdjust="spacingAndGlyphs">1.86 ± Ac.</text>
<text class="d" x="481.8" y="542.3" style="font-size:7.6px" textLength="15.6" lengthAdjust="spacingAndGlyphs">R=13</text>
<text class="d" x="481.8" y="549.0" style="font-size:7.6px" textLength="16.6" lengthAdjust="spacingAndGlyphs">20.81</text>
<text class="rg" x="517.5" y="540.9" style="font-size:8.0px" textLength="8.5" lengthAdjust="spacingAndGlyphs">30</text>
<text class="rg" x="518.5" y="550.3" style="font-size:8.0px" textLength="6.5" lengthAdjust="spacingAndGlyphs">6</text>
<text class="d" x="446.9" y="555.3" style="font-size:8.3px" textLength="23.1" lengthAdjust="spacingAndGlyphs">287.56</text>
<text class="f" x="408.7" y="565.8" style="font-size:8.3px" textLength="44.3" lengthAdjust="spacingAndGlyphs">Future  St. )  .</text>
<text class="d" transform="translate(495.8,562.9) rotate(-90)" x="-4.3" y="2.9" style="font-size:8.3px" textLength="8.5" lengthAdjust="spacingAndGlyphs">32</text>
<text class="f" transform="translate(533.0,481.8) rotate(-90)" x="-17.3" y="2.9" style="font-size:8.3px" textLength="34.5" lengthAdjust="spacingAndGlyphs">( Prt  ¢</text>
<text class="d" transform="translate(544.4,509.8) rotate(-90)" x="-11.2" y="2.9" style="font-size:8.3px" textLength="22.3" lengthAdjust="spacingAndGlyphs">331.50</text>
<text class="cn" x="571.6" y="511.6" style="font-size:8.8px" textLength="9.9" lengthAdjust="spacingAndGlyphs">29</text>
<text class="n" x="587.9" y="510.7" style="font-size:10.3px" textLength="16.3" lengthAdjust="spacingAndGlyphs">89</text>
<text class="d" x="575.0" y="528.5" style="font-size:8.3px" textLength="35.3" lengthAdjust="spacingAndGlyphs">2.02 ± Ac.</text>
<text class="d" x="571.8" y="566.6" style="font-size:8.3px" textLength="23.9" lengthAdjust="spacingAndGlyphs">270.45</text>
<text class="rg" x="527.1" y="540.0" style="font-size:8.0px" textLength="8.5" lengthAdjust="spacingAndGlyphs">30</text>
<text class="rg" x="527.1" y="549.8" style="font-size:8.0px" textLength="8.5" lengthAdjust="spacingAndGlyphs">60</text>
<text class="d" transform="translate(626.3,472.4) rotate(-90)" x="-4.7" y="2.9" style="font-size:8.3px" textLength="9.3" lengthAdjust="spacingAndGlyphs">105</text>
<text class="rg" x="637.5" y="485.8" style="font-size:8.0px" textLength="7.7" lengthAdjust="spacingAndGlyphs">44</text>
<text class="rg" x="642.5" y="476.8" style="font-size:8.0px" textLength="5.5" lengthAdjust="spacingAndGlyphs">7</text>
<text class="d" transform="translate(632.8,532.8) rotate(-90)" x="-11.6" y="2.9" style="font-size:8.3px" textLength="23.1" lengthAdjust="spacingAndGlyphs">226.50</text>
<text class="d" transform="translate(642.6,528.0) rotate(-90)" x="-18.0" y="2.9" style="font-size:8.3px" textLength="36.0" lengthAdjust="spacingAndGlyphs">N 0°36'56" W</text>
<text class="rg" x="640.0" y="495.3" style="font-size:8.0px" textLength="8.0" lengthAdjust="spacingAndGlyphs">60</text>
<text class="rg" x="640.0" y="503.6" style="font-size:8.0px" textLength="8.0" lengthAdjust="spacingAndGlyphs">30</text>
<text class="rg" x="640.0" y="556.5" style="font-size:8.0px" textLength="8.0" lengthAdjust="spacingAndGlyphs">30</text>
<text class="rg" x="640.0" y="563.5" style="font-size:8.0px" textLength="8.0" lengthAdjust="spacingAndGlyphs">60</text>
<text class="f" x="686.9" y="457.9" style="font-size:8.3px" textLength="33.6" lengthAdjust="spacingAndGlyphs">( Future St. )</text>
<text class="d" transform="translate(679.0,455.0) rotate(-90)" x="-4.0" y="2.9" style="font-size:8.3px" textLength="8.0" lengthAdjust="spacingAndGlyphs">30</text>
<text class="d" transform="translate(725.2,455.0) rotate(-90)" x="-4.0" y="2.9" style="font-size:8.3px" textLength="8.0" lengthAdjust="spacingAndGlyphs">30</text>
<text class="d" transform="translate(735.8,455.0) rotate(-90)" x="-4.0" y="2.9" style="font-size:8.3px" textLength="8.0" lengthAdjust="spacingAndGlyphs">6</text>
<text class="d" x="693.4" y="468.4" style="font-size:8.3px" textLength="23.1" lengthAdjust="spacingAndGlyphs">232.59</text>
<text class="d" x="671.5" y="475.8" style="font-size:7.6px" textLength="16.4" lengthAdjust="spacingAndGlyphs">R=25</text>
<text class="d" x="671.5" y="482.4" style="font-size:7.6px" textLength="17.4" lengthAdjust="spacingAndGlyphs">39.05</text>
<text class="d" x="732.3" y="475.1" style="font-size:7.6px" textLength="14.8" lengthAdjust="spacingAndGlyphs">R=13</text>
<text class="d" x="732.3" y="482.2" style="font-size:7.6px" textLength="15.8" lengthAdjust="spacingAndGlyphs">20.53</text>
<text class="d" transform="translate(665.2,522.2) rotate(-90)" x="-11.6" y="2.9" style="font-size:8.3px" textLength="23.1" lengthAdjust="spacingAndGlyphs">276.72</text>
<text class="f" transform="translate(653.8,531.6) rotate(-90)" x="-14.4" y="2.9" style="font-size:8.3px" textLength="28.8" lengthAdjust="spacingAndGlyphs">( Future St. )</text>
<text class="d" x="692.6" y="523.6" style="font-size:8.3px" textLength="33.6" lengthAdjust="spacingAndGlyphs">1.87 ± Ac.</text>
<text class="n" x="698.2" y="533.7" style="font-size:10.3px" textLength="15.1" lengthAdjust="spacingAndGlyphs">88</text>
<text class="cn" x="700.0" y="549.7" style="font-size:8.8px" textLength="9.9" lengthAdjust="spacingAndGlyphs">28</text>
<text class="d" transform="translate(751.2,522.2) rotate(-90)" x="-11.6" y="2.9" style="font-size:8.3px" textLength="23.1" lengthAdjust="spacingAndGlyphs">288.39</text>
<text class="d" transform="translate(762.6,491.4) rotate(-90)" x="-10.8" y="2.9" style="font-size:8.3px" textLength="21.5" lengthAdjust="spacingAndGlyphs">331.50</text>
<text class="st" transform="translate(761.0,525.6) rotate(-90)" x="-15.7" y="3.5" style="font-size:10px" textLength="31.4" lengthAdjust="spacingAndGlyphs">111TH</text>
<text class="d" x="695.0" y="567.5" style="font-size:8.3px" textLength="23.9" lengthAdjust="spacingAndGlyphs">270.88</text>
<text class="rg" x="648.5" y="477.3" style="font-size:8.0px" textLength="8.5" lengthAdjust="spacingAndGlyphs">74</text>
<text class="rg" x="648.5" y="492.3" style="font-size:8.0px" textLength="8.5" lengthAdjust="spacingAndGlyphs">60</text>
<text class="rg" x="648.5" y="499.3" style="font-size:8.0px" textLength="8.5" lengthAdjust="spacingAndGlyphs">30</text>
<text class="rg" x="648.5" y="556.3" style="font-size:8.0px" textLength="8.5" lengthAdjust="spacingAndGlyphs">30</text>
<text class="rg" x="648.5" y="563.3" style="font-size:8.0px" textLength="8.5" lengthAdjust="spacingAndGlyphs">60</text>
<text class="rg" x="759.0" y="564.3" style="font-size:8.0px" textLength="9.0" lengthAdjust="spacingAndGlyphs">30</text>
<text class="rg" x="759.0" y="551.8" style="font-size:8.0px" textLength="9.0" lengthAdjust="spacingAndGlyphs">60</text>
<text class="f" transform="translate(772.0,464.6) rotate(-90)" x="-11.6" y="2.9" style="font-size:8.3px" textLength="23.1" lengthAdjust="spacingAndGlyphs">Prt.  ¢</text>
<text class="d" transform="translate(800.4,454.5) rotate(-90)" x="-4.7" y="2.9" style="font-size:8.3px" textLength="9.3" lengthAdjust="spacingAndGlyphs">64</text>
<text class="d" transform="translate(806.0,454.5) rotate(-90)" x="-4.7" y="2.9" style="font-size:8.3px" textLength="9.3" lengthAdjust="spacingAndGlyphs">32</text>
<text class="d" x="816.4" y="468.2" style="font-size:8.3px" textLength="24.0" lengthAdjust="spacingAndGlyphs">287.99</text>
<text class="d" x="785.6" y="474.9" style="font-size:7.6px" textLength="14.8" lengthAdjust="spacingAndGlyphs">R=13</text>
<text class="d" x="785.6" y="481.6" style="font-size:7.6px" textLength="15.8" lengthAdjust="spacingAndGlyphs">20.81</text>
<text class="d" transform="translate(783.4,512.5) rotate(-90)" x="-11.6" y="2.9" style="font-size:8.3px" textLength="23.1" lengthAdjust="spacingAndGlyphs">245.50</text>
<text class="n" x="838.3" y="510.1" style="font-size:10.3px" textLength="16.0" lengthAdjust="spacingAndGlyphs">87</text>
<text class="cn" x="858.8" y="511.3" style="font-size:8.8px" textLength="9.9" lengthAdjust="spacingAndGlyphs">27</text>
<text class="d" x="838.4" y="525.2" style="font-size:8.3px" textLength="30.4" lengthAdjust="spacingAndGlyphs">1.86 ± Ac.</text>
<text class="d" transform="translate(883.2,517.5) rotate(-90)" x="-11.6" y="2.9" style="font-size:8.3px" textLength="23.1" lengthAdjust="spacingAndGlyphs">269.50</text>
<text class="d" x="786.4" y="543.1" style="font-size:7.6px" textLength="14.8" lengthAdjust="spacingAndGlyphs">R=13</text>
<text class="d" x="786.4" y="549.8" style="font-size:7.6px" textLength="15.8" lengthAdjust="spacingAndGlyphs">20.53</text>
<text class="d" x="813.2" y="555.7" style="font-size:8.3px" textLength="24.7" lengthAdjust="spacingAndGlyphs">287.77</text>
<text class="d" transform="translate(789.0,563.6) rotate(-90)" x="-4.3" y="2.9" style="font-size:8.3px" textLength="8.5" lengthAdjust="spacingAndGlyphs">64</text>
<text class="d" transform="translate(798.8,563.6) rotate(-90)" x="-4.3" y="2.9" style="font-size:8.3px" textLength="8.5" lengthAdjust="spacingAndGlyphs">32</text>
<text class="d" x="815.6" y="567.3" style="font-size:8.3px" textLength="24.8" lengthAdjust="spacingAndGlyphs">330.88</text>
<text class="f" x="850.5" y="566.6" style="font-size:8.3px" textLength="31.3" lengthAdjust="spacingAndGlyphs">( Prt.  ¢</text>
<text class="rg" x="767.7" y="540.3" style="font-size:8.0px" textLength="7.8" lengthAdjust="spacingAndGlyphs">30</text>
<text class="rg" x="765.5" y="550.3" style="font-size:8.0px" textLength="8.0" lengthAdjust="spacingAndGlyphs">60</text>
<text class="cn" x="926.1" y="510.8" style="font-size:8.8px" textLength="9.9" lengthAdjust="spacingAndGlyphs">26</text>
<text class="n" x="941.7" y="510.0" style="font-size:10.3px" textLength="15.5" lengthAdjust="spacingAndGlyphs">86</text>
<text class="d" x="930.0" y="526.0" style="font-size:8.3px" textLength="33.6" lengthAdjust="spacingAndGlyphs">2.04 ± Ac.</text>
<text class="d" transform="translate(1000.8,517.4) rotate(-90)" x="-12.4" y="2.9" style="font-size:8.3px" textLength="24.8" lengthAdjust="spacingAndGlyphs">269.50</text>
<text class="f" x="890.2" y="566.2" style="font-size:8.3px" textLength="53.1" lengthAdjust="spacingAndGlyphs">Future St.) 330</text>
<text class="d" transform="translate(1062.0,454.5) rotate(-90)" x="-4.7" y="2.9" style="font-size:8.3px" textLength="9.3" lengthAdjust="spacingAndGlyphs">30</text>
<text class="d" transform="translate(1069.3,454.5) rotate(-90)" x="-4.7" y="2.9" style="font-size:8.3px" textLength="9.3" lengthAdjust="spacingAndGlyphs">60</text>
<text class="d" x="1025.4" y="469.2" style="font-size:8.3px" textLength="23.1" lengthAdjust="spacingAndGlyphs">213.65</text>
<text class="d" x="1057.0" y="474.1" style="font-size:7.6px" textLength="15.6" lengthAdjust="spacingAndGlyphs">R=13</text>
<text class="d" x="1057.0" y="480.8" style="font-size:7.6px" textLength="16.6" lengthAdjust="spacingAndGlyphs">20.54</text>
<text class="d" transform="translate(1083.9,469.5) rotate(-90)" x="-6.7" y="2.9" style="font-size:8.3px" textLength="13.4" lengthAdjust="spacingAndGlyphs">18.44</text>
<text class="rg" x="1091.9" y="471.9" style="font-size:8.0px" textLength="10.1" lengthAdjust="spacingAndGlyphs">54</text>
<text class="d" transform="translate(1079.0,511.3) rotate(-72)" x="-11.3" y="2.9" style="font-size:8.3px" textLength="22.6" lengthAdjust="spacingAndGlyphs">159.16</text>
<text class="d" transform="translate(1086.0,511.3) rotate(-72)" x="-11.3" y="2.9" style="font-size:8.3px" textLength="22.6" lengthAdjust="spacingAndGlyphs">R=548</text>
<text class="d" transform="translate(1102.6,512.0) rotate(-90)" x="-12.0" y="2.9" style="font-size:8.3px" textLength="23.9" lengthAdjust="spacingAndGlyphs">256.82</text>
<text class="cn" x="1021.1" y="508.8" style="font-size:8.8px" textLength="9.9" lengthAdjust="spacingAndGlyphs">25</text>
<text class="n" x="1037.4" y="509.2" style="font-size:10.3px" textLength="16.8" lengthAdjust="spacingAndGlyphs">85</text>
<text class="d" x="1023.8" y="525.1" style="font-size:8.3px" textLength="33.6" lengthAdjust="spacingAndGlyphs">1.26 ± Ac.</text>
<text class="d" x="1038.3" y="542.2" style="font-size:7.6px" textLength="11.6" lengthAdjust="spacingAndGlyphs">R=13</text>
<text class="d" x="1038.3" y="548.9" style="font-size:7.6px" textLength="12.6" lengthAdjust="spacingAndGlyphs">13.23</text>
<text class="d" transform="translate(1060.4,542.5) rotate(-65)" x="-8.3" y="2.9" style="font-size:8.3px" textLength="16.6" lengthAdjust="spacingAndGlyphs">48.11</text>
<text class="d" x="1081.3" y="542.2" style="font-size:7.6px" textLength="14.8" lengthAdjust="spacingAndGlyphs">R=13</text>
<text class="d" x="1081.3" y="548.9" style="font-size:7.6px" textLength="15.8" lengthAdjust="spacingAndGlyphs">20.30</text>
<text class="d" x="1019.7" y="556.4" style="font-size:8.3px" textLength="10.9" lengthAdjust="spacingAndGlyphs">140</text>
<text class="d" x="1068.3" y="556.0" style="font-size:8.3px" textLength="15.0" lengthAdjust="spacingAndGlyphs">177.81</text>
<text class="d" x="1031.9" y="567.1" style="font-size:8.3px" textLength="23.9" lengthAdjust="spacingAndGlyphs">280.68</text>
<text class="d" transform="translate(1075.5,562.8) rotate(-90)" x="-4.3" y="2.9" style="font-size:8.3px" textLength="8.5" lengthAdjust="spacingAndGlyphs">30</text>
<text class="d" x="1087.9" y="566.6" style="font-size:6.5px" textLength="10.8" lengthAdjust="spacingAndGlyphs">14.58</text>
<text class="st" x="211.7" y="85.6" style="font-size:10.5px" textLength="26.4" lengthAdjust="spacingAndGlyphs">AVE.</text>
<text class="st" transform="translate(161.6,134.1) rotate(-90)" x="-14.9" y="3.5" style="font-size:10px" textLength="29.7" lengthAdjust="spacingAndGlyphs">ST. W.</text>
<text class="d" x="165.1" y="133.3" style="font-size:6.5px" textLength="4.4" lengthAdjust="spacingAndGlyphs">o</text>
<text class="d" x="245.6" y="46.4" style="font-size:6px" textLength="30.3" lengthAdjust="spacingAndGlyphs">2.52 ± Ac.</text>
<text class="d" x="242.3" y="54.4" style="font-size:6px" textLength="59.6" lengthAdjust="spacingAndGlyphs">-0.613 Ac Prt ¢ Fut. St.</text>
<text class="d" x="242.3" y="61.4" style="font-size:6px" textLength="40.6" lengthAdjust="spacingAndGlyphs">-0.81 ± Ac. Fut. St.</text>
<text class="d" x="241.5" y="68.7" style="font-size:6px" textLength="53.0" lengthAdjust="spacingAndGlyphs">-0.05 ± Ac. Dr. Esmt.</text>
<text class="d" x="244.0" y="76.5" style="font-size:6px" textLength="23.2" lengthAdjust="spacingAndGlyphs">1.05 ± Ac.</text>
<text class="st" x="1039.9" y="83.2" style="font-size:10.5px" textLength="24.0" lengthAdjust="spacingAndGlyphs">B-8</text>
<text class="rg" x="1117.0" y="118.9" style="font-size:8.5px" textLength="12.8" lengthAdjust="spacingAndGlyphs">80</text>
<text class="st" transform="translate(1127.0,147.8) rotate(-90)" x="-18.5" y="4.7" style="font-size:13.5px" textLength="37.0" lengthAdjust="spacingAndGlyphs">ST. W.</text>
<text class="st" x="452.7" y="579.4" style="font-size:10.5px" textLength="27.3" lengthAdjust="spacingAndGlyphs">B-12</text>
<text class="d" x="632.7" y="577.8" style="font-size:6.5px" textLength="48.7" lengthAdjust="spacingAndGlyphs">N 89° 23' 59" E</text>
<text class="st" x="804.9" y="579.7" style="font-size:10.5px" textLength="26.9" lengthAdjust="spacingAndGlyphs">AVE.</text>
<text class="st" x="1041.7" y="579.4" style="font-size:10.5px" textLength="26.0" lengthAdjust="spacingAndGlyphs">B-12</text>
<text class="st" x="209.2" y="578.9" style="font-size:10.5px" textLength="22.6" lengthAdjust="spacingAndGlyphs">AVE.</text>
<text class="st" transform="translate(157.6,524.0) rotate(-90)" x="-17.5" y="3.8" style="font-size:11px" textLength="35.0" lengthAdjust="spacingAndGlyphs">115TH</text>
<text class="st" transform="translate(1124.0,505.8) rotate(-90)" x="-18.0" y="3.8" style="font-size:11px" textLength="35.9" lengthAdjust="spacingAndGlyphs">110TH</text>
<text class="rg" x="1115.0" y="544.9" style="font-size:8.5px" textLength="11.0" lengthAdjust="spacingAndGlyphs">80</text>
<text class="d" transform="translate(1088.0,86.5) rotate(-90)" x="-4.5" y="2.9" style="font-size:8.3px" textLength="9.0" lengthAdjust="spacingAndGlyphs">80</text>
<text class="bt" x="13.5" y="21.3" style="font-size:18.72px" textLength="48.1" lengthAdjust="spacingAndGlyphs">3261</text>
<text class="bt" x="89.5" y="21.3" style="font-size:18.72px" textLength="22.1" lengthAdjust="spacingAndGlyphs">18</text>
<text class="bt" x="9.9" y="46.1" style="font-size:10.47px" textLength="99.9" lengthAdjust="spacingAndGlyphs">SCALE 1″ = 200′</text>
<text class="bt" x="647.2" y="55.1" style="font-size:12.29px" textLength="12.8" lengthAdjust="spacingAndGlyphs">19</text>
<text class="bt" x="113.1" y="333.2" style="font-size:11.87px" textLength="18.0" lengthAdjust="spacingAndGlyphs">28</text>
<text class="bt" x="643.7" y="624.9" style="font-size:13.27px" textLength="13.8" lengthAdjust="spacingAndGlyphs">17</text>
<text class="bt" x="1168.1" y="319.4" style="font-size:11.31px" textLength="20.6" lengthAdjust="spacingAndGlyphs">BK.</text>
<text class="bt" x="1158.8" y="331.5" style="font-size:12.01px" textLength="37.2" lengthAdjust="spacingAndGlyphs">3262</text>
<text class="bt" x="87.8" y="673.9" style="font-size:11.87px" textLength="29.1" lengthAdjust="spacingAndGlyphs">CODE</text>
<text class="bt" x="87.8" y="685.9" style="font-size:11.17px" textLength="28.3" lengthAdjust="spacingAndGlyphs">9561</text>
<text class="bt" x="229.9" y="747.2" style="font-size:12.15px" textLength="45.8" lengthAdjust="spacingAndGlyphs">TRACT</text>
<text class="bt" x="286.8" y="747.2" style="font-size:12.15px" textLength="68.2" lengthAdjust="spacingAndGlyphs">NO. 29814</text>
<text class="bt" x="392.2" y="748.9" style="font-size:12.71px" textLength="115.1" lengthAdjust="spacingAndGlyphs">M.B. 803-51- 60</text>
<text class="bt" x="87.9" y="758.2" style="font-size:10.34px" textLength="123.7" lengthAdjust="spacingAndGlyphs">FOR PREV. ASSM'T SEE:</text>
<text class="bt" x="86.9" y="768.1" style="font-size:9.36px" textLength="45.9" lengthAdjust="spacingAndGlyphs">3221- 62</text>
<text class="bt" x="1030.5" y="724.3" style="font-style:italic;font-size:8.02px" textLength="113.9" lengthAdjust="spacingAndGlyphs">All acreages  on this page</text>
<text class="bt" x="1032.0" y="731.4" style="font-style:italic;font-size:7.79px" textLength="112.0" lengthAdjust="spacingAndGlyphs">are net except those tabled</text>
<text class="bt" x="1043.9" y="763.1" style="font-size:10.06px" textLength="89.2" lengthAdjust="spacingAndGlyphs">ASSESSOR'S MAP</text>
<text class="bt" x="987.8" y="777.6" style="font-size:12.99px" textLength="201.5" lengthAdjust="spacingAndGlyphs">COUNTY OF LOS ANGELES, CALIF.</text>
<text class="bt" x="2.9" y="755.6" style="stroke:#fff;stroke-width:0.7;paint-order:stroke;font-size:20.67px" textLength="121.4" lengthAdjust="spacingAndGlyphs">GAVAR MLS</text>
<text class="bt" x="1128.1" y="9.9" style="font-style:italic;font-size:6.98px" textLength="49.9" lengthAdjust="spacingAndGlyphs">710325 ¹¹7</text>
<text class="bt" x="1128.1" y="16.9" style="font-style:italic;font-size:6.98px" textLength="32.9" lengthAdjust="spacingAndGlyphs">710929</text>
<text class="bt" x="1124.9" y="26.5" style="font-style:italic;font-size:9.22px" textLength="33.1" lengthAdjust="spacingAndGlyphs">720126</text>
</svg>
</body></html>
